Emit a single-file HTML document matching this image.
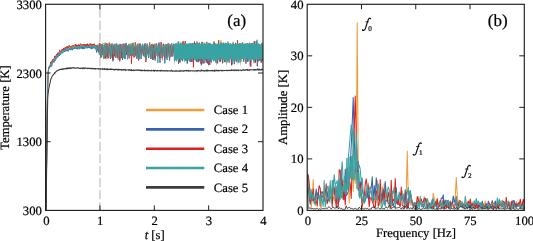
<!DOCTYPE html><html><head><meta charset="utf-8"><style>html,body{margin:0;padding:0;background:#fff;width:533px;height:241px;overflow:hidden}svg{display:block;will-change:transform}</style></head><body><svg xmlns="http://www.w3.org/2000/svg" width="533" height="241" viewBox="0 0 533 241">
<rect width="533" height="241" fill="#fff"/>
<defs><clipPath id="cl"><rect x="45.6" y="4.3" width="217.40" height="206.10"/></clipPath><clipPath id="cr"><rect x="307.2" y="4.3" width="217.10" height="206.10"/></clipPath></defs>
<line x1="99.95" y1="4.3" x2="99.95" y2="210.4" stroke="#cdcdcd" stroke-width="1.5" stroke-dasharray="9.2,2.9" stroke-dashoffset="7.8"/>
<polyline clip-path="url(#cl)" fill="none" stroke="#f29b3c" stroke-width="0.9" stroke-linejoin="round" points="45.60,210.36 45.87,210.54 46.14,198.59 46.42,176.92 46.69,154.59 46.96,133.31 47.23,112.55 47.50,95.02 47.77,83.07 48.05,76.49 48.32,71.52 48.59,68.91 48.86,68.02 49.13,67.81 49.40,67.30 49.68,66.33 49.95,66.10 50.22,65.80 50.49,64.57 50.76,65.27 51.04,62.06 51.31,62.38 51.58,63.68 51.85,62.44 52.12,61.21 52.39,61.61 52.67,61.78 52.94,60.19 53.21,60.83 53.48,59.80 53.75,59.44 54.02,59.12 54.30,59.64 54.57,57.61 54.84,57.81 55.11,58.23 55.38,56.46 55.65,55.82 55.93,57.08 56.20,56.35 56.47,55.95 56.74,55.88 57.01,54.76 57.29,57.39 57.56,54.18 57.83,54.31 58.10,53.28 58.37,53.75 58.64,54.92 58.92,53.51 59.19,53.65 59.46,52.56 59.73,53.99 60.00,52.47 60.27,51.21 60.55,52.52 60.82,51.46 61.09,51.99 61.36,51.44 61.63,51.33 61.91,51.03 62.18,50.04 62.45,49.39 62.72,51.04 62.99,50.01 63.26,50.12 63.54,49.35 63.81,47.98 64.08,48.36 64.35,50.27 64.62,48.53 64.89,48.73 65.17,47.81 65.44,48.42 65.71,48.43 65.98,48.44 66.25,48.45 66.52,47.93 66.80,47.87 67.07,48.19 67.34,48.34 67.61,47.89 67.88,49.20 68.16,47.96 68.43,47.86 68.70,47.18 68.97,48.38 69.24,46.77 69.51,46.26 69.79,46.67 70.06,47.80 70.33,46.41 70.60,48.17 70.87,47.11 71.14,45.92 71.42,46.82 71.69,48.26 71.96,46.21 72.23,45.82 72.50,47.14 72.78,47.69 73.05,47.43 73.32,46.37 73.59,46.71 73.86,46.76 74.13,47.35 74.41,48.04 74.68,46.30 74.95,47.30 75.22,46.02 75.49,46.68 75.76,45.49 76.04,45.57 76.31,46.44 76.58,45.44 76.85,46.76 77.12,45.67 77.39,46.13 77.67,45.99 77.94,45.79 78.21,46.12 78.48,46.82 78.75,48.32 79.03,45.09 79.30,46.19 79.57,45.82 79.84,45.25 80.11,46.13 80.38,45.24 80.66,45.83 80.93,46.80 81.20,44.34 81.47,46.03 81.74,46.16 82.01,45.09 82.29,46.19 82.56,46.05 82.83,45.51 83.10,46.66 83.37,44.76 83.65,46.20 83.92,45.53 84.19,44.90 84.46,45.54 84.73,45.40 85.00,46.26 85.28,44.52 85.55,45.50 85.82,45.30 86.09,46.83 86.36,44.81 86.63,46.44 86.91,44.33 87.18,45.90 87.45,45.54 87.72,45.93 87.99,45.12 88.26,44.18 88.54,44.48 88.81,46.63 89.08,45.80 89.35,44.99 89.62,46.31 89.90,45.08 90.17,45.08 90.44,44.73 90.71,46.52 90.98,47.11 91.25,44.91 91.53,45.85 91.80,46.37 92.07,47.22 92.34,43.84 92.61,45.74 92.88,46.12 93.16,44.54 93.43,45.99 93.70,45.87 93.97,46.29 94.24,45.35 94.52,46.13 94.79,45.40 95.06,46.39 95.33,46.04 95.60,45.46 95.87,44.64 96.15,47.14 96.42,47.83 96.69,48.97 96.96,48.38 97.23,49.36 97.50,49.70 97.78,46.72 98.05,44.46 98.32,45.01 98.59,46.47 98.86,48.09 99.13,53.98 99.41,53.91 99.68,53.55 99.95,48.81 100.22,45.89 100.49,44.26 100.77,44.70 101.04,48.57 101.31,52.53 101.58,56.89 101.85,52.02 102.12,47.09 102.40,48.10 102.67,44.09 102.94,42.88 103.21,45.61 103.48,49.05 103.75,56.95 104.03,50.09 104.30,53.19 104.57,53.61 104.84,47.13 105.11,44.06 105.39,44.70 105.66,48.54 105.93,51.43 106.20,52.35 106.47,58.23 106.74,59.06 107.02,53.01 107.29,51.16 107.56,45.79 107.83,43.94 108.10,45.37 108.37,50.20 108.65,56.31 108.92,54.95 109.19,53.46 109.46,51.09 109.73,46.74 110.00,45.15 110.28,45.54 110.55,44.21 110.82,50.40 111.09,54.23 111.36,54.93 111.64,55.22 111.91,52.75 112.18,48.41 112.45,45.36 112.72,45.02 112.99,45.71 113.27,52.46 113.54,56.32 113.81,51.25 114.08,53.51 114.35,48.82 114.62,44.74 114.90,45.80 115.17,48.95 115.44,51.90 115.71,56.20 115.98,55.40 116.25,50.30 116.53,49.07 116.80,49.29 117.07,45.59 117.34,47.54 117.61,52.67 117.89,56.40 118.16,57.83 118.43,57.37 118.70,51.55 118.97,49.24 119.24,44.37 119.52,43.81 119.79,45.93 120.06,49.51 120.33,55.33 120.60,59.77 120.87,52.46 121.15,49.45 121.42,47.59 121.69,44.69 121.96,45.73 122.23,52.21 122.51,54.86 122.78,54.97 123.05,57.16 123.32,53.68 123.59,47.62 123.86,43.56 124.14,44.41 124.41,46.25 124.68,51.90 124.95,55.31 125.22,59.04 125.49,57.56 125.77,51.96 126.04,47.12 126.31,45.64 126.58,45.23 126.85,45.56 127.12,50.11 127.40,54.14 127.67,56.07 127.94,52.44 128.21,50.50 128.48,46.67 128.76,45.81 129.03,43.52 129.30,44.90 129.57,50.32 129.84,55.56 130.11,55.10 130.39,54.67 130.66,52.66 130.93,46.69 131.20,44.33 131.47,43.09 131.74,51.12 132.02,55.42 132.29,54.88 132.56,54.75 132.83,52.10 133.10,48.40 133.38,46.39 133.65,47.02 133.92,50.48 134.19,49.40 134.46,46.61 134.73,55.74 135.01,56.74 135.28,52.00 135.55,46.16 135.82,43.82 136.09,46.47 136.36,51.20 136.64,56.08 136.91,54.15 137.18,56.33 137.45,51.89 137.72,48.27 138.00,43.32 138.27,44.68 138.54,53.82 138.81,54.23 139.08,55.15 139.35,57.63 139.63,54.24 139.90,52.87 140.17,45.38 140.44,45.06 140.71,45.25 140.98,48.82 141.26,55.37 141.53,56.14 141.80,55.44 142.07,55.07 142.34,48.86 142.61,45.57 142.89,47.45 143.16,46.89 143.43,49.80 143.70,54.53 143.97,55.11 144.25,54.82 144.52,52.76 144.79,46.14 145.06,44.46 145.33,44.66 145.60,45.96 145.88,49.53 146.15,55.46 146.42,59.25 146.69,51.14 146.96,53.12 147.23,45.75 147.51,44.44 147.78,46.30 148.05,48.30 148.32,52.76 148.59,57.99 148.87,57.98 149.14,54.26 149.41,46.53 149.68,44.47 149.95,44.74 150.22,46.71 150.50,52.60 150.77,55.61 151.04,55.57 151.31,55.89 151.58,48.97 151.85,47.81 152.13,44.48 152.40,43.73 152.67,47.94 152.94,50.05 153.21,55.84 153.48,55.28 153.76,52.61 154.03,49.06 154.30,43.87 154.57,44.28 154.84,46.09 155.12,52.53 155.39,51.50 155.66,53.16 155.93,56.18 156.20,50.50 156.47,45.06 156.75,44.11 157.02,44.49 157.29,47.78 157.56,52.71 157.83,54.38 158.10,55.94 158.38,54.31 158.65,50.69 158.92,51.79 159.19,44.51 159.46,45.38 159.74,48.15 160.01,53.47 160.28,56.25 160.55,55.55 160.82,51.65 161.09,51.78 161.37,45.97 161.64,45.77 161.91,44.48 162.18,49.25 162.45,60.32 162.72,48.45 163.00,56.48 163.27,54.85 163.54,51.64 163.81,46.88 164.08,44.75 164.35,45.86 164.63,48.54 164.90,54.25 165.17,53.18 165.44,57.49 165.71,53.89 165.99,49.75 166.26,46.52 166.53,44.04 166.80,45.12 167.07,49.81 167.34,53.52 167.62,57.77 167.89,54.62 168.16,50.05 168.43,50.23 168.70,45.53 168.97,44.59 169.25,46.85 169.52,51.27 169.79,57.45 170.06,57.67 170.33,56.26 170.61,52.27 170.88,45.91 171.15,44.79 171.42,45.08 171.69,50.95 171.96,49.67 172.24,53.43 172.51,51.39 172.78,53.36 173.05,49.07 173.32,43.78 173.59,45.12 173.87,45.12 174.14,51.25 174.41,56.91 174.68,53.70 174.95,53.89 175.22,51.48 175.50,46.56 175.77,44.45 176.04,43.54 176.31,47.05 176.58,53.62 176.86,52.51 177.13,57.08 177.40,54.95 177.67,55.52 177.94,46.95 178.21,44.83 178.49,43.83 178.76,44.73 179.03,52.14 179.30,57.31 179.57,54.73 179.84,54.72 180.12,56.89 180.39,49.42 180.66,45.04 180.93,43.37 181.20,45.56 181.47,55.48 181.75,59.73 182.02,57.95 182.29,53.31 182.56,51.90 182.83,50.10 183.11,41.83 183.38,45.02 183.65,48.40 183.92,52.39 184.19,54.19 184.46,62.07 184.74,55.64 185.01,49.53 185.28,46.33 185.55,45.85 185.82,46.39 186.09,53.38 186.37,52.98 186.64,59.50 186.91,60.70 187.18,51.19 187.45,47.66 187.73,45.01 188.00,46.14 188.27,49.87 188.54,51.65 188.81,58.96 189.08,60.68 189.36,56.25 189.63,50.99 189.90,46.32 190.17,45.50 190.44,43.93 190.71,45.82 190.99,53.38 191.26,52.74 191.53,57.56 191.80,52.40 192.07,51.43 192.34,45.56 192.62,44.61 192.89,45.58 193.16,45.49 193.43,57.95 193.70,55.86 193.98,50.66 194.25,52.76 194.52,51.84 194.79,46.40 195.06,43.77 195.33,47.30 195.61,54.59 195.88,52.77 196.15,55.81 196.42,57.64 196.69,55.32 196.96,46.45 197.24,47.74 197.51,45.78 197.78,48.21 198.05,58.51 198.32,54.74 198.60,60.90 198.87,61.23 199.14,51.70 199.41,47.85 199.68,46.50 199.95,44.78 200.23,46.20 200.50,50.23 200.77,56.07 201.04,62.26 201.31,55.81 201.58,52.70 201.86,50.66 202.13,41.84 202.40,44.97 202.67,53.37 202.94,46.90 203.22,62.66 203.49,57.10 203.76,57.78 204.03,53.31 204.30,47.94 204.57,42.83 204.85,43.71 205.12,45.47 205.39,53.61 205.66,55.08 205.93,60.63 206.20,57.33 206.48,55.89 206.75,52.41 207.02,44.79 207.29,41.89 207.56,49.32 207.83,49.54 208.11,59.42 208.38,58.33 208.65,53.90 208.92,48.98 209.19,45.28 209.47,43.99 209.74,45.01 210.01,50.27 210.28,55.52 210.55,59.58 210.82,57.34 211.10,51.89 211.37,45.42 211.64,44.67 211.91,47.77 212.18,50.23 212.45,53.69 212.73,55.85 213.00,52.91 213.27,48.77 213.54,47.89 213.81,42.38 214.09,40.99 214.36,45.43 214.63,55.11 214.90,60.60 215.17,58.44 215.44,53.55 215.72,52.58 215.99,49.42 216.26,46.53 216.53,43.96 216.80,49.44 217.07,54.68 217.35,54.84 217.62,59.85 217.89,53.46 218.16,56.49 218.43,45.68 218.70,43.91 218.98,44.70 219.25,49.07 219.52,55.94 219.79,56.71 220.06,61.34 220.34,55.32 220.61,48.54 220.88,40.36 221.15,44.35 221.42,46.47 221.69,48.78 221.97,54.32 222.24,57.58 222.51,63.96 222.78,56.50 223.05,49.08 223.32,43.20 223.60,44.44 223.87,42.94 224.14,51.76 224.41,56.92 224.68,60.77 224.96,59.05 225.23,52.85 225.50,48.95 225.77,46.64 226.04,48.85 226.31,47.66 226.59,51.71 226.86,58.61 227.13,56.32 227.40,62.73 227.67,50.21 227.94,49.31 228.22,44.42 228.49,44.97 228.76,47.67 229.03,52.33 229.30,50.84 229.57,55.70 229.85,58.00 230.12,55.29 230.39,48.19 230.66,47.13 230.93,44.57 231.21,48.81 231.48,51.11 231.75,61.82 232.02,56.74 232.29,55.29 232.56,50.52 232.84,48.78 233.11,41.82 233.38,43.24 233.65,48.85 233.92,56.84 234.19,55.20 234.47,60.14 234.74,53.39 235.01,48.04 235.28,43.80 235.55,48.69 235.82,53.32 236.10,54.60 236.37,61.22 236.64,59.50 236.91,52.72 237.18,49.01 237.46,47.08 237.73,42.92 238.00,45.85 238.27,48.62 238.54,53.50 238.81,57.28 239.09,57.06 239.36,50.87 239.63,47.97 239.90,48.41 240.17,44.52 240.44,46.91 240.72,61.77 240.99,60.98 241.26,56.94 241.53,61.62 241.80,54.65 242.08,45.65 242.35,45.22 242.62,44.45 242.89,55.20 243.16,53.98 243.43,53.81 243.71,58.54 243.98,50.65 244.25,46.56 244.52,43.68 244.79,47.69 245.06,53.26 245.34,54.55 245.61,55.72 245.88,55.25 246.15,48.47 246.42,48.82 246.70,44.35 246.97,44.56 247.24,45.61 247.51,46.76 247.78,52.31 248.05,53.30 248.33,55.06 248.60,55.77 248.87,52.00 249.14,48.28 249.41,42.54 249.68,44.43 249.96,52.19 250.23,59.54 250.50,57.43 250.77,55.69 251.04,53.96 251.31,51.07 251.59,44.12 251.86,46.84 252.13,45.43 252.40,51.20 252.67,54.20 252.95,56.91 253.22,54.43 253.49,54.69 253.76,47.49 254.03,45.36 254.30,44.20 254.58,48.35 254.85,49.96 255.12,55.19 255.39,57.48 255.66,61.09 255.93,51.99 256.21,48.40 256.48,43.64 256.75,44.48 257.02,45.44 257.29,47.18 257.56,49.30 257.84,57.92 258.11,55.87 258.38,57.43 258.65,52.00 258.92,48.96 259.20,47.45 259.47,53.84 259.74,48.30 260.01,48.70 260.28,59.16 260.55,62.96 260.83,60.75 261.10,49.69 261.37,48.02 261.64,45.77 261.91,45.09 262.18,45.00 262.46,55.49 262.73,55.73 263.00,56.38"/>
<polyline clip-path="url(#cl)" fill="none" stroke="#3565ae" stroke-width="0.9" stroke-linejoin="round" points="45.60,210.37 45.87,210.67 46.14,198.73 46.42,177.28 46.69,154.35 46.96,133.11 47.23,112.65 47.50,95.26 47.77,83.65 48.05,76.06 48.32,71.44 48.59,68.26 48.86,69.09 49.13,67.92 49.40,66.90 49.68,66.61 49.95,67.37 50.22,67.15 50.49,66.57 50.76,66.52 51.04,66.50 51.31,64.46 51.58,66.49 51.85,66.09 52.12,64.23 52.39,63.17 52.67,63.13 52.94,61.52 53.21,62.24 53.48,61.25 53.75,61.43 54.02,60.90 54.30,62.33 54.57,59.77 54.84,60.29 55.11,59.40 55.38,60.53 55.65,59.78 55.93,57.47 56.20,57.58 56.47,58.24 56.74,57.28 57.01,57.80 57.29,57.24 57.56,56.08 57.83,56.38 58.10,56.68 58.37,55.98 58.64,55.85 58.92,55.74 59.19,55.09 59.46,55.91 59.73,53.66 60.00,54.68 60.27,53.73 60.55,54.22 60.82,54.35 61.09,53.99 61.36,53.81 61.63,53.67 61.91,53.30 62.18,52.52 62.45,53.04 62.72,53.02 62.99,52.73 63.26,52.09 63.54,51.89 63.81,49.98 64.08,50.68 64.35,51.04 64.62,51.84 64.89,51.89 65.17,50.99 65.44,49.94 65.71,51.05 65.98,51.32 66.25,51.05 66.52,49.85 66.80,49.46 67.07,49.49 67.34,49.26 67.61,50.72 67.88,50.10 68.16,51.41 68.43,50.95 68.70,50.41 68.97,49.06 69.24,50.01 69.51,49.78 69.79,48.31 70.06,48.35 70.33,48.68 70.60,50.12 70.87,48.80 71.14,47.99 71.42,49.03 71.69,49.35 71.96,47.91 72.23,50.21 72.50,48.16 72.78,49.48 73.05,49.15 73.32,48.03 73.59,48.45 73.86,48.50 74.13,48.17 74.41,48.96 74.68,48.38 74.95,46.99 75.22,48.32 75.49,47.33 75.76,47.97 76.04,48.28 76.31,48.01 76.58,48.84 76.85,48.00 77.12,47.65 77.39,49.28 77.67,48.57 77.94,47.90 78.21,47.99 78.48,47.67 78.75,48.02 79.03,47.21 79.30,49.25 79.57,48.84 79.84,46.20 80.11,47.15 80.38,47.83 80.66,47.36 80.93,46.22 81.20,48.34 81.47,46.90 81.74,48.30 82.01,48.11 82.29,48.90 82.56,47.07 82.83,49.10 83.10,46.78 83.37,48.83 83.65,48.48 83.92,47.99 84.19,46.83 84.46,48.85 84.73,48.23 85.00,46.35 85.28,45.64 85.55,47.10 85.82,46.95 86.09,48.14 86.36,47.71 86.63,47.85 86.91,47.22 87.18,48.32 87.45,47.17 87.72,46.46 87.99,45.79 88.26,48.00 88.54,47.14 88.81,46.31 89.08,46.94 89.35,47.31 89.62,48.13 89.90,45.99 90.17,47.30 90.44,48.17 90.71,47.97 90.98,48.23 91.25,49.11 91.53,46.97 91.80,47.16 92.07,48.43 92.34,48.85 92.61,47.88 92.88,47.38 93.16,46.77 93.43,48.15 93.70,47.98 93.97,46.94 94.24,47.39 94.52,47.08 94.79,48.30 95.06,47.76 95.33,48.70 95.60,48.65 95.87,48.26 96.15,50.03 96.42,51.00 96.69,52.49 96.96,50.00 97.23,50.28 97.50,49.09 97.78,47.05 98.05,46.41 98.32,48.72 98.59,51.12 98.86,51.99 99.13,50.40 99.41,53.09 99.68,49.72 99.95,46.04 100.22,44.29 100.49,45.34 100.77,46.32 101.04,50.75 101.31,52.12 101.58,56.88 101.85,55.37 102.12,52.26 102.40,49.40 102.67,45.12 102.94,47.12 103.21,48.50 103.48,53.18 103.75,54.82 104.03,58.55 104.30,50.25 104.57,47.38 104.84,44.78 105.11,47.18 105.39,50.30 105.66,56.82 105.93,57.24 106.20,56.74 106.47,54.89 106.74,52.79 107.02,46.61 107.29,46.81 107.56,47.91 107.83,51.95 108.10,57.72 108.37,56.27 108.65,53.23 108.92,51.65 109.19,46.45 109.46,44.32 109.73,48.30 110.00,53.34 110.28,53.58 110.55,58.79 110.82,53.01 111.09,55.64 111.36,52.08 111.64,49.70 111.91,43.67 112.18,46.34 112.45,49.37 112.72,52.19 112.99,61.33 113.27,59.25 113.54,55.34 113.81,48.18 114.08,46.65 114.35,46.55 114.62,48.44 114.90,56.37 115.17,54.32 115.44,55.83 115.71,57.70 115.98,57.15 116.25,48.82 116.53,47.01 116.80,44.67 117.07,46.82 117.34,47.78 117.61,53.20 117.89,55.24 118.16,54.41 118.43,50.09 118.70,49.08 118.97,45.85 119.24,44.72 119.52,46.58 119.79,52.86 120.06,53.41 120.33,53.42 120.60,58.20 120.87,50.73 121.15,48.24 121.42,46.41 121.69,45.63 121.96,48.33 122.23,54.18 122.51,59.96 122.78,57.17 123.05,58.07 123.32,49.66 123.59,47.04 123.86,45.98 124.14,44.30 124.41,46.19 124.68,52.61 124.95,58.86 125.22,58.05 125.49,55.13 125.77,49.33 126.04,45.86 126.31,43.09 126.58,47.28 126.85,51.28 127.12,52.54 127.40,57.16 127.67,57.45 127.94,52.36 128.21,49.31 128.48,45.66 128.76,44.59 129.03,46.89 129.30,53.15 129.57,54.36 129.84,55.46 130.11,56.10 130.39,52.02 130.66,46.88 130.93,46.04 131.20,46.70 131.47,48.49 131.74,53.19 132.02,53.30 132.29,55.78 132.56,53.74 132.83,50.63 133.10,47.25 133.38,45.58 133.65,49.04 133.92,54.35 134.19,50.78 134.46,57.09 134.73,54.77 135.01,52.10 135.28,47.67 135.55,46.46 135.82,45.67 136.09,47.94 136.36,54.71 136.64,56.07 136.91,58.78 137.18,54.33 137.45,49.31 137.72,44.22 138.00,46.42 138.27,47.64 138.54,51.18 138.81,57.20 139.08,59.16 139.35,54.73 139.63,53.41 139.90,48.77 140.17,44.68 140.44,46.25 140.71,48.39 140.98,51.56 141.26,58.74 141.53,55.05 141.80,52.75 142.07,52.57 142.34,45.29 142.61,44.69 142.89,44.52 143.16,48.58 143.43,53.78 143.70,55.99 143.97,53.22 144.25,54.42 144.52,49.47 144.79,48.50 145.06,45.82 145.33,43.63 145.60,49.70 145.88,54.72 146.15,57.45 146.42,57.15 146.69,52.70 146.96,47.56 147.23,46.21 147.51,45.44 147.78,47.24 148.05,51.63 148.32,55.83 148.59,58.03 148.87,53.88 149.14,52.75 149.41,49.09 149.68,46.56 149.95,45.44 150.22,50.36 150.50,51.37 150.77,58.12 151.04,56.68 151.31,52.09 151.58,48.97 151.85,44.38 152.13,47.78 152.40,48.17 152.67,54.23 152.94,59.00 153.21,54.43 153.48,50.36 153.76,47.30 154.03,45.03 154.30,48.49 154.57,51.24 154.84,54.17 155.12,60.52 155.39,52.25 155.66,52.07 155.93,51.46 156.20,48.51 156.47,46.08 156.75,48.10 157.02,48.41 157.29,54.25 157.56,56.32 157.83,55.25 158.10,55.39 158.38,51.17 158.65,46.89 158.92,45.26 159.19,44.66 159.46,52.76 159.74,55.75 160.01,62.82 160.28,52.97 160.55,52.68 160.82,50.69 161.09,46.62 161.37,43.56 161.64,46.09 161.91,50.86 162.18,53.52 162.45,56.32 162.72,56.05 163.00,54.68 163.27,51.58 163.54,45.55 163.81,46.91 164.08,50.74 164.35,55.56 164.63,56.23 164.90,63.32 165.17,51.01 165.44,52.28 165.71,47.42 165.99,46.55 166.26,48.09 166.53,53.10 166.80,58.57 167.07,59.96 167.34,54.97 167.62,55.88 167.89,48.72 168.16,44.71 168.43,45.14 168.70,46.26 168.97,53.49 169.25,56.84 169.52,60.56 169.79,56.84 170.06,53.19 170.33,46.80 170.61,46.29 170.88,53.08 171.15,51.17 171.42,50.20 171.69,53.62 171.96,55.76 172.24,55.92 172.51,48.30 172.78,46.47 173.05,45.83 173.32,47.87 173.59,50.65 173.87,52.71 174.14,55.68 174.41,56.27 174.68,52.77 174.95,48.45 175.22,44.70 175.50,47.36 175.77,51.72 176.04,57.14 176.31,60.43 176.58,51.20 176.86,48.70 177.13,46.66 177.40,45.10 177.67,47.25 177.94,54.02 178.21,57.94 178.49,63.70 178.76,57.62 179.03,56.01 179.30,49.31 179.57,44.43 179.84,53.47 180.12,54.90 180.39,61.79 180.66,54.86 180.93,58.39 181.20,50.15 181.47,47.84 181.75,45.04 182.02,50.53 182.29,57.83 182.56,61.18 182.83,58.54 183.11,57.59 183.38,54.73 183.65,48.95 183.92,43.02 184.19,44.96 184.46,48.74 184.74,55.62 185.01,58.52 185.28,56.95 185.55,60.57 185.82,54.30 186.09,48.80 186.37,44.20 186.64,46.08 186.91,48.21 187.18,54.26 187.45,63.52 187.73,55.02 188.00,57.18 188.27,52.49 188.54,47.79 188.81,44.81 189.08,45.93 189.36,54.56 189.63,59.57 189.90,61.61 190.17,54.07 190.44,47.49 190.71,54.63 190.99,43.16 191.26,51.67 191.53,52.07 191.80,61.18 192.07,62.09 192.34,57.47 192.62,49.18 192.89,43.51 193.16,46.15 193.43,45.36 193.70,53.12 193.98,56.31 194.25,54.42 194.52,54.69 194.79,45.74 195.06,51.63 195.33,43.57 195.61,45.55 195.88,49.86 196.15,58.55 196.42,57.75 196.69,62.03 196.96,58.79 197.24,54.93 197.51,53.46 197.78,49.16 198.05,43.28 198.32,49.26 198.60,60.32 198.87,58.74 199.14,60.90 199.41,56.89 199.68,54.61 199.95,52.73 200.23,46.29 200.50,47.73 200.77,48.16 201.04,53.59 201.31,65.25 201.58,64.70 201.86,61.60 202.13,49.37 202.40,47.81 202.67,42.55 202.94,43.51 203.22,56.76 203.49,62.75 203.76,58.75 204.03,63.29 204.30,55.59 204.57,51.79 204.85,44.99 205.12,46.13 205.39,50.20 205.66,52.82 205.93,61.27 206.20,62.81 206.48,61.80 206.75,53.74 207.02,45.18 207.29,46.87 207.56,46.88 207.83,51.09 208.11,58.83 208.38,61.51 208.65,65.18 208.92,59.98 209.19,55.55 209.47,53.56 209.74,44.41 210.01,43.79 210.28,48.30 210.55,51.26 210.82,61.44 211.10,59.60 211.37,62.25 211.64,47.85 211.91,46.04 212.18,44.94 212.45,49.36 212.73,53.52 213.00,59.47 213.27,51.52 213.54,59.17 213.81,60.00 214.09,54.06 214.36,45.19 214.63,43.48 214.90,46.33 215.17,52.23 215.44,55.71 215.72,57.95 215.99,62.84 216.26,55.10 216.53,46.79 216.80,46.09 217.07,46.54 217.35,55.56 217.62,59.06 217.89,55.77 218.16,56.14 218.43,50.76 218.70,50.12 218.98,47.67 219.25,43.93 219.52,52.08 219.79,56.71 220.06,59.43 220.34,61.55 220.61,61.30 220.88,53.86 221.15,45.49 221.42,43.67 221.69,46.07 221.97,51.19 222.24,59.66 222.51,59.93 222.78,62.99 223.05,52.36 223.32,46.53 223.60,45.06 223.87,44.49 224.14,48.65 224.41,57.85 224.68,62.05 224.96,52.12 225.23,52.02 225.50,43.30 225.77,45.42 226.04,51.89 226.31,57.27 226.59,59.33 226.86,59.52 227.13,53.58 227.40,60.43 227.67,50.69 227.94,47.27 228.22,43.15 228.49,47.87 228.76,52.12 229.03,57.58 229.30,58.22 229.57,59.80 229.85,55.30 230.12,51.14 230.39,48.59 230.66,44.78 230.93,47.33 231.21,55.91 231.48,62.19 231.75,62.43 232.02,64.45 232.29,57.61 232.56,46.88 232.84,44.39 233.11,43.35 233.38,48.64 233.65,56.40 233.92,61.33 234.19,64.18 234.47,63.93 234.74,59.55 235.01,48.75 235.28,47.67 235.55,43.37 235.82,48.96 236.10,55.52 236.37,60.86 236.64,61.86 236.91,59.66 237.18,49.93 237.46,49.22 237.73,48.81 238.00,45.77 238.27,45.64 238.54,50.23 238.81,59.75 239.09,53.97 239.36,54.28 239.63,47.22 239.90,43.96 240.17,46.86 240.44,47.08 240.72,49.19 240.99,55.38 241.26,54.82 241.53,55.40 241.80,58.10 242.08,54.10 242.35,46.41 242.62,43.79 242.89,50.42 243.16,55.51 243.43,59.20 243.71,61.76 243.98,59.39 244.25,49.65 244.52,50.88 244.79,44.78 245.06,43.92 245.34,57.90 245.61,52.83 245.88,61.65 246.15,58.60 246.42,52.27 246.70,47.81 246.97,45.59 247.24,50.99 247.51,56.64 247.78,57.01 248.05,60.60 248.33,55.99 248.60,45.92 248.87,44.15 249.14,47.18 249.41,48.84 249.68,51.01 249.96,58.63 250.23,65.60 250.50,51.69 250.77,48.69 251.04,47.46 251.31,43.04 251.59,47.16 251.86,52.74 252.13,57.02 252.40,55.96 252.67,59.37 252.95,56.72 253.22,52.88 253.49,47.13 253.76,43.68 254.03,44.19 254.30,50.86 254.58,54.67 254.85,58.19 255.12,62.41 255.39,56.51 255.66,49.47 255.93,43.49 256.21,41.28 256.48,50.68 256.75,52.98 257.02,59.01 257.29,66.31 257.56,62.73 257.84,53.22 258.11,51.78 258.38,45.69 258.65,45.48 258.92,49.08 259.20,53.21 259.47,52.83 259.74,60.86 260.01,50.21 260.28,53.84 260.55,48.48 260.83,45.40 261.10,46.56 261.37,49.09 261.64,62.48 261.91,59.32 262.18,53.17 262.46,51.61 262.73,51.47 263.00,45.65"/>
<polyline clip-path="url(#cl)" fill="none" stroke="#dc2020" stroke-width="0.9" stroke-linejoin="round" points="45.60,210.56 45.87,210.17 46.14,198.91 46.42,176.58 46.69,155.07 46.96,133.17 47.23,112.50 47.50,95.22 47.77,83.00 48.05,76.71 48.32,71.46 48.59,68.73 48.86,67.19 49.13,66.48 49.40,66.97 49.68,66.14 49.95,65.45 50.22,64.94 50.49,63.88 50.76,62.08 51.04,63.62 51.31,62.48 51.58,61.26 51.85,60.97 52.12,61.56 52.39,60.05 52.67,59.34 52.94,60.12 53.21,60.11 53.48,59.81 53.75,59.38 54.02,58.62 54.30,57.90 54.57,56.25 54.84,57.21 55.11,56.50 55.38,57.83 55.65,55.86 55.93,56.12 56.20,56.17 56.47,54.44 56.74,54.13 57.01,55.67 57.29,55.34 57.56,52.90 57.83,53.92 58.10,54.58 58.37,52.69 58.64,53.03 58.92,52.79 59.19,52.16 59.46,51.75 59.73,49.86 60.00,50.71 60.27,51.09 60.55,51.30 60.82,52.27 61.09,52.58 61.36,51.57 61.63,50.48 61.91,49.31 62.18,49.78 62.45,50.53 62.72,49.42 62.99,49.51 63.26,50.07 63.54,48.22 63.81,48.18 64.08,49.66 64.35,48.86 64.62,49.06 64.89,48.45 65.17,47.39 65.44,49.04 65.71,47.65 65.98,48.22 66.25,48.18 66.52,47.99 66.80,46.69 67.07,47.81 67.34,46.38 67.61,47.49 67.88,46.84 68.16,48.19 68.43,46.54 68.70,46.80 68.97,46.72 69.24,45.33 69.51,46.53 69.79,46.60 70.06,45.98 70.33,46.37 70.60,46.63 70.87,46.64 71.14,46.70 71.42,47.01 71.69,47.00 71.96,45.87 72.23,46.28 72.50,45.96 72.78,45.59 73.05,45.51 73.32,45.03 73.59,45.93 73.86,46.46 74.13,45.38 74.41,45.29 74.68,44.91 74.95,44.57 75.22,44.68 75.49,45.59 75.76,44.16 76.04,46.55 76.31,45.94 76.58,45.36 76.85,44.86 77.12,45.97 77.39,45.03 77.67,46.72 77.94,45.15 78.21,45.58 78.48,44.60 78.75,46.02 79.03,45.57 79.30,45.56 79.57,46.42 79.84,44.51 80.11,43.77 80.38,43.66 80.66,44.60 80.93,44.84 81.20,44.81 81.47,45.43 81.74,45.86 82.01,44.50 82.29,45.94 82.56,44.61 82.83,44.27 83.10,45.53 83.37,45.61 83.65,45.46 83.92,44.20 84.19,45.95 84.46,45.21 84.73,44.32 85.00,44.91 85.28,45.03 85.55,44.86 85.82,44.46 86.09,46.13 86.36,44.52 86.63,45.17 86.91,44.85 87.18,45.08 87.45,43.69 87.72,46.37 87.99,46.00 88.26,44.85 88.54,45.74 88.81,44.96 89.08,45.50 89.35,44.82 89.62,43.75 89.90,44.45 90.17,44.47 90.44,44.38 90.71,43.40 90.98,44.72 91.25,45.31 91.53,45.17 91.80,44.29 92.07,46.12 92.34,44.73 92.61,45.16 92.88,44.73 93.16,44.31 93.43,45.04 93.70,44.27 93.97,44.19 94.24,43.65 94.52,45.20 94.79,45.55 95.06,45.13 95.33,45.46 95.60,46.33 95.87,47.39 96.15,47.07 96.42,47.46 96.69,46.14 96.96,44.98 97.23,45.08 97.50,47.40 97.78,49.39 98.05,51.29 98.32,51.00 98.59,51.93 98.86,48.58 99.13,45.75 99.41,43.17 99.68,45.28 99.95,48.16 100.22,53.52 100.49,55.16 100.77,57.65 101.04,56.21 101.31,48.32 101.58,48.67 101.85,44.02 102.12,46.85 102.40,47.45 102.67,51.90 102.94,54.98 103.21,54.40 103.48,54.60 103.75,52.33 104.03,49.67 104.30,45.18 104.57,44.84 104.84,47.77 105.11,52.92 105.39,58.50 105.66,52.98 105.93,55.23 106.20,51.43 106.47,47.35 106.74,43.07 107.02,44.24 107.29,50.04 107.56,55.37 107.83,53.36 108.10,58.36 108.37,53.56 108.65,52.44 108.92,45.98 109.19,42.65 109.46,45.59 109.73,45.70 110.00,50.79 110.28,58.34 110.55,55.90 110.82,56.37 111.09,50.76 111.36,46.03 111.64,45.13 111.91,45.53 112.18,49.91 112.45,51.64 112.72,59.93 112.99,55.78 113.27,52.13 113.54,48.77 113.81,44.59 114.08,45.10 114.35,46.62 114.62,50.61 114.90,56.17 115.17,56.51 115.44,53.33 115.71,47.77 115.98,43.67 116.25,43.50 116.53,49.57 116.80,53.80 117.07,55.06 117.34,58.00 117.61,53.37 117.89,47.79 118.16,45.73 118.43,45.43 118.70,47.49 118.97,49.30 119.24,51.88 119.52,58.14 119.79,61.33 120.06,49.11 120.33,46.52 120.60,44.39 120.87,43.90 121.15,45.68 121.42,52.22 121.69,58.06 121.96,51.60 122.23,54.04 122.51,53.03 122.78,46.96 123.05,43.77 123.32,44.96 123.59,46.03 123.86,49.96 124.14,54.84 124.41,56.61 124.68,57.38 124.95,53.30 125.22,47.79 125.49,44.42 125.77,43.52 126.04,45.66 126.31,49.51 126.58,54.69 126.85,54.98 127.12,53.97 127.40,51.67 127.67,45.78 127.94,45.59 128.21,45.29 128.48,47.96 128.76,53.89 129.03,56.68 129.30,58.37 129.57,52.64 129.84,55.54 130.11,46.67 130.39,44.70 130.66,45.20 130.93,50.08 131.20,52.73 131.47,63.73 131.74,56.51 132.02,54.65 132.29,47.35 132.56,46.13 132.83,43.06 133.10,47.13 133.38,52.69 133.65,52.87 133.92,57.35 134.19,53.50 134.46,51.20 134.73,49.20 135.01,44.89 135.28,42.45 135.55,50.01 135.82,55.53 136.09,53.01 136.36,55.26 136.64,53.87 136.91,47.74 137.18,46.10 137.45,45.03 137.72,45.54 138.00,53.24 138.27,57.76 138.54,60.56 138.81,57.22 139.08,53.71 139.35,50.29 139.63,45.63 139.90,43.34 140.17,46.36 140.44,49.89 140.71,52.78 140.98,52.77 141.26,58.56 141.53,54.95 141.80,47.08 142.07,46.34 142.34,44.57 142.61,44.79 142.89,48.83 143.16,53.33 143.43,54.05 143.70,53.10 143.97,52.46 144.25,50.00 144.52,47.32 144.79,43.64 145.06,47.00 145.33,50.67 145.60,56.35 145.88,62.14 146.15,55.81 146.42,58.12 146.69,49.81 146.96,45.15 147.23,43.64 147.51,46.37 147.78,50.18 148.05,54.77 148.32,53.80 148.59,51.28 148.87,50.75 149.14,48.43 149.41,45.11 149.68,42.41 149.95,46.22 150.22,52.08 150.50,54.49 150.77,58.90 151.04,55.52 151.31,47.29 151.58,45.43 151.85,44.47 152.13,47.87 152.40,49.48 152.67,59.93 152.94,56.99 153.21,53.24 153.48,49.55 153.76,45.49 154.03,44.38 154.30,45.63 154.57,48.78 154.84,58.40 155.12,53.26 155.39,54.27 155.66,51.73 155.93,47.43 156.20,43.32 156.47,46.91 156.75,48.31 157.02,52.69 157.29,54.52 157.56,55.86 157.83,52.74 158.10,50.74 158.38,46.26 158.65,43.69 158.92,42.51 159.19,47.12 159.46,49.05 159.74,54.84 160.01,57.74 160.28,54.68 160.55,53.31 160.82,46.70 161.09,42.07 161.37,45.10 161.64,50.96 161.91,58.23 162.18,57.33 162.45,56.82 162.72,48.08 163.00,47.38 163.27,44.85 163.54,43.73 163.81,46.81 164.08,50.08 164.35,50.69 164.63,57.86 164.90,54.92 165.17,48.77 165.44,47.02 165.71,45.93 165.99,44.19 166.26,46.80 166.53,47.73 166.80,55.02 167.07,54.07 167.34,56.71 167.62,49.00 167.89,46.87 168.16,43.31 168.43,46.44 168.70,49.87 168.97,53.59 169.25,56.81 169.52,55.10 169.79,50.70 170.06,45.70 170.33,45.95 170.61,44.72 170.88,47.16 171.15,50.82 171.42,52.10 171.69,53.06 171.96,56.80 172.24,53.16 172.51,50.31 172.78,46.99 173.05,44.82 173.32,44.24 173.59,46.48 173.87,49.18 174.14,51.39 174.41,60.10 174.68,56.05 174.95,54.47 175.22,48.17 175.50,45.39 175.77,44.02 176.04,45.68 176.31,47.16 176.58,50.83 176.86,56.03 177.13,55.72 177.40,53.13 177.67,48.43 177.94,44.04 178.21,41.90 178.49,44.36 178.76,51.40 179.03,56.04 179.30,62.30 179.57,58.75 179.84,54.78 180.12,47.10 180.39,43.29 180.66,46.89 180.93,51.87 181.20,57.20 181.47,59.89 181.75,59.70 182.02,57.31 182.29,49.72 182.56,44.83 182.83,42.31 183.11,41.23 183.38,45.41 183.65,49.48 183.92,52.11 184.19,55.64 184.46,59.20 184.74,51.20 185.01,42.34 185.28,40.99 185.55,43.75 185.82,47.05 186.09,54.07 186.37,59.17 186.64,59.75 186.91,55.21 187.18,51.29 187.45,45.42 187.73,48.33 188.00,49.30 188.27,54.09 188.54,58.64 188.81,55.81 189.08,52.70 189.36,49.56 189.63,45.09 189.90,46.32 190.17,48.18 190.44,54.29 190.71,61.07 190.99,61.99 191.26,59.26 191.53,55.91 191.80,49.99 192.07,43.91 192.34,43.76 192.62,43.84 192.89,52.72 193.16,52.14 193.43,67.36 193.70,57.07 193.98,54.55 194.25,49.43 194.52,41.55 194.79,46.43 195.06,44.92 195.33,52.16 195.61,60.15 195.88,60.12 196.15,55.73 196.42,48.98 196.69,45.29 196.96,41.66 197.24,45.17 197.51,54.49 197.78,61.61 198.05,62.19 198.32,60.89 198.60,56.71 198.87,51.71 199.14,46.47 199.41,42.60 199.68,49.65 199.95,54.51 200.23,61.55 200.50,59.10 200.77,63.49 201.04,53.25 201.31,49.07 201.58,48.84 201.86,41.96 202.13,44.92 202.40,51.25 202.67,52.43 202.94,63.47 203.22,62.15 203.49,54.66 203.76,49.95 204.03,44.85 204.30,46.90 204.57,43.42 204.85,55.83 205.12,54.83 205.39,59.39 205.66,57.62 205.93,51.75 206.20,49.46 206.48,42.25 206.75,47.57 207.02,53.45 207.29,55.82 207.56,63.40 207.83,61.28 208.11,55.01 208.38,46.70 208.65,45.12 208.92,42.99 209.19,48.48 209.47,54.29 209.74,64.83 210.01,62.01 210.28,56.71 210.55,56.79 210.82,58.83 211.10,45.66 211.37,46.47 211.64,44.66 211.91,46.81 212.18,48.54 212.45,56.07 212.73,53.62 213.00,58.77 213.27,55.56 213.54,46.44 213.81,44.49 214.09,42.36 214.36,47.15 214.63,54.47 214.90,55.90 215.17,57.61 215.44,53.36 215.72,55.76 215.99,49.23 216.26,47.49 216.53,49.27 216.80,49.67 217.07,57.76 217.35,57.38 217.62,63.35 217.89,57.11 218.16,50.21 218.43,46.50 218.70,40.20 218.98,46.83 219.25,48.59 219.52,56.91 219.79,55.20 220.06,62.03 220.34,55.51 220.61,52.48 220.88,46.87 221.15,43.54 221.42,44.14 221.69,50.15 221.97,58.80 222.24,55.19 222.51,60.25 222.78,53.64 223.05,53.41 223.32,47.95 223.60,42.95 223.87,46.53 224.14,48.24 224.41,58.19 224.68,52.10 224.96,61.76 225.23,55.00 225.50,48.30 225.77,43.40 226.04,43.87 226.31,43.54 226.59,51.09 226.86,57.64 227.13,58.07 227.40,56.88 227.67,53.68 227.94,44.64 228.22,43.86 228.49,45.14 228.76,53.28 229.03,61.54 229.30,56.72 229.57,57.01 229.85,53.58 230.12,48.13 230.39,43.22 230.66,45.04 230.93,49.47 231.21,49.00 231.48,65.29 231.75,59.18 232.02,58.65 232.29,50.99 232.56,45.37 232.84,45.61 233.11,44.48 233.38,49.83 233.65,52.48 233.92,52.95 234.19,60.26 234.47,56.67 234.74,50.85 235.01,48.84 235.28,45.49 235.55,42.91 235.82,54.41 236.10,59.32 236.37,61.40 236.64,56.20 236.91,52.02 237.18,49.14 237.46,40.33 237.73,44.57 238.00,51.25 238.27,53.71 238.54,57.43 238.81,62.09 239.09,57.66 239.36,49.43 239.63,44.18 239.90,43.28 240.17,46.34 240.44,48.12 240.72,55.63 240.99,57.36 241.26,56.09 241.53,58.82 241.80,52.39 242.08,46.73 242.35,42.86 242.62,43.82 242.89,49.57 243.16,55.66 243.43,57.23 243.71,59.66 243.98,49.81 244.25,45.01 244.52,44.37 244.79,48.73 245.06,50.15 245.34,52.59 245.61,58.07 245.88,63.60 246.15,53.78 246.42,57.62 246.70,50.93 246.97,43.41 247.24,45.43 247.51,49.14 247.78,61.83 248.05,58.35 248.33,56.97 248.60,48.88 248.87,50.05 249.14,45.25 249.41,44.50 249.68,45.39 249.96,57.59 250.23,57.55 250.50,55.92 250.77,66.66 251.04,59.28 251.31,51.38 251.59,46.64 251.86,44.16 252.13,46.75 252.40,51.46 252.67,54.80 252.95,54.29 253.22,56.49 253.49,54.03 253.76,46.08 254.03,42.60 254.30,40.99 254.58,43.08 254.85,49.20 255.12,56.89 255.39,62.65 255.66,54.72 255.93,55.48 256.21,50.89 256.48,46.01 256.75,41.52 257.02,44.18 257.29,50.20 257.56,51.08 257.84,60.33 258.11,61.66 258.38,55.82 258.65,51.00 258.92,45.43 259.20,44.86 259.47,45.31 259.74,49.98 260.01,53.59 260.28,60.22 260.55,60.06 260.83,59.22 261.10,49.82 261.37,48.22 261.64,43.18 261.91,46.65 262.18,52.48 262.46,60.43 262.73,61.08 263.00,54.74"/>
<polygon clip-path="url(#cl)" fill="#3aa3a3" points="174.00,43.24 174.50,44.68 175.00,42.70 175.50,45.44 176.00,44.10 176.50,43.57 177.00,44.26 177.50,44.69 178.00,43.51 178.50,44.34 179.00,44.15 179.50,43.36 180.00,44.12 180.50,43.34 181.00,44.20 181.50,43.47 182.00,44.44 182.50,44.63 183.00,44.86 183.50,44.23 184.00,43.04 184.50,43.45 185.00,42.75 185.50,44.86 186.00,42.85 186.50,44.77 187.00,44.41 187.50,43.41 188.00,43.35 188.50,43.39 189.00,43.40 189.50,43.46 190.00,42.49 190.50,45.06 191.00,44.12 191.50,44.13 192.00,45.10 192.50,43.81 193.00,43.51 193.50,42.83 194.00,43.16 194.50,44.15 195.00,43.74 195.50,43.07 196.00,43.35 196.50,42.47 197.00,42.72 197.50,44.30 198.00,43.90 198.50,43.50 199.00,43.69 199.50,44.55 200.00,44.02 200.50,44.18 201.00,42.92 201.50,44.13 202.00,42.88 202.50,44.06 203.00,43.39 203.50,44.60 204.00,43.79 204.50,42.41 205.00,43.59 205.50,44.03 206.00,44.35 206.50,44.60 207.00,44.00 207.50,45.24 208.00,42.70 208.50,43.54 209.00,42.59 209.50,43.18 210.00,42.73 210.50,43.07 211.00,44.51 211.50,43.60 212.00,44.85 212.50,44.01 213.00,44.30 213.50,44.84 214.00,43.29 214.50,43.56 215.00,44.57 215.50,43.92 216.00,43.30 216.50,46.10 217.00,42.33 217.50,43.75 218.00,43.94 218.50,43.53 219.00,44.11 219.50,43.75 220.00,43.95 220.50,43.88 221.00,43.50 221.50,44.09 222.00,42.72 222.50,43.96 223.00,42.88 223.50,44.65 224.00,45.04 224.50,43.27 225.00,42.45 225.50,42.41 226.00,43.35 226.50,43.45 227.00,43.92 227.50,44.38 228.00,43.54 228.50,43.14 229.00,45.94 229.50,43.83 230.00,43.93 230.50,43.20 231.00,43.99 231.50,43.73 232.00,44.23 232.50,43.69 233.00,42.56 233.50,42.65 234.00,44.44 234.50,44.27 235.00,43.72 235.50,44.24 236.00,44.88 236.50,43.02 237.00,44.73 237.50,45.25 238.00,44.82 238.50,43.48 239.00,44.28 239.50,43.67 240.00,42.95 240.50,43.17 241.00,43.38 241.50,43.43 242.00,43.75 242.50,42.68 243.00,42.21 243.50,43.13 244.00,44.56 244.50,43.82 245.00,44.09 245.50,43.33 246.00,43.23 246.50,43.66 247.00,43.95 247.50,44.10 248.00,45.32 248.50,44.79 249.00,44.29 249.50,42.45 250.00,43.49 250.50,43.61 251.00,42.90 251.50,43.97 252.00,43.46 252.50,43.64 253.00,43.92 253.50,43.16 254.00,44.10 254.50,43.34 255.00,43.77 255.50,44.03 256.00,45.60 256.50,42.77 257.00,44.98 257.50,43.88 258.00,43.09 258.50,43.49 259.00,43.20 259.50,44.50 260.00,44.33 260.50,44.33 261.00,44.49 261.50,42.91 262.00,42.36 262.50,44.20 263.00,43.59 263.50,43.08 263.50,58.58 263.00,58.71 262.50,58.75 262.00,61.12 261.50,59.74 261.00,58.06 260.50,60.42 260.00,58.04 259.50,61.36 259.00,58.27 258.50,59.20 258.00,59.43 257.50,58.83 257.00,58.15 256.50,60.58 256.00,58.89 255.50,59.77 255.00,59.30 254.50,62.35 254.00,64.28 253.50,62.80 253.00,58.97 252.50,58.32 252.00,58.85 251.50,61.39 251.00,61.26 250.50,60.36 250.00,59.82 249.50,58.03 249.00,62.08 248.50,59.22 248.00,59.16 247.50,59.07 247.00,58.19 246.50,64.45 246.00,59.20 245.50,59.31 245.00,59.10 244.50,58.70 244.00,59.74 243.50,59.72 243.00,58.49 242.50,59.45 242.00,58.40 241.50,58.47 241.00,58.79 240.50,67.14 240.00,60.29 239.50,59.52 239.00,58.79 238.50,59.25 238.00,64.90 237.50,58.40 237.00,66.05 236.50,58.85 236.00,58.51 235.50,58.18 235.00,60.20 234.50,61.45 234.00,58.41 233.50,58.56 233.00,62.13 232.50,66.05 232.00,58.98 231.50,58.45 231.00,58.40 230.50,59.48 230.00,58.68 229.50,61.37 229.00,61.12 228.50,62.19 228.00,58.50 227.50,62.51 227.00,59.15 226.50,67.37 226.00,61.40 225.50,63.70 225.00,58.62 224.50,60.94 224.00,59.85 223.50,60.03 223.00,58.59 222.50,60.65 222.00,58.78 221.50,58.46 221.00,58.34 220.50,60.49 220.00,58.18 219.50,58.95 219.00,60.89 218.50,59.66 218.00,59.93 217.50,61.31 217.00,61.34 216.50,66.54 216.00,60.73 215.50,60.52 215.00,61.82 214.50,60.04 214.00,61.78 213.50,61.25 213.00,61.31 212.50,59.26 212.00,59.60 211.50,64.71 211.00,58.23 210.50,58.91 210.00,58.55 209.50,60.72 209.00,58.51 208.50,58.56 208.00,58.17 207.50,59.37 207.00,59.37 206.50,58.21 206.00,60.07 205.50,58.35 205.00,59.38 204.50,60.20 204.00,60.21 203.50,59.98 203.00,59.11 202.50,58.83 202.00,59.20 201.50,58.42 201.00,58.34 200.50,65.32 200.00,59.00 199.50,61.11 199.00,60.06 198.50,58.34 198.00,58.39 197.50,63.59 197.00,58.42 196.50,60.23 196.00,58.49 195.50,60.90 195.00,59.56 194.50,60.74 194.00,59.11 193.50,58.24 193.00,58.02 192.50,61.77 192.00,58.59 191.50,58.75 191.00,58.32 190.50,61.46 190.00,59.18 189.50,59.98 189.00,58.25 188.50,58.56 188.00,60.12 187.50,58.19 187.00,61.15 186.50,64.69 186.00,58.67 185.50,59.71 185.00,59.57 184.50,61.26 184.00,59.95 183.50,58.36 183.00,60.35 182.50,59.03 182.00,60.33 181.50,59.47 181.00,60.17 180.50,64.12 180.00,61.29 179.50,58.74 179.00,58.84 178.50,60.38 178.00,60.98 177.50,58.73 177.00,60.25 176.50,61.23 176.00,62.21 175.50,58.72 175.00,60.66 174.50,62.00 174.00,64.93"/>
<polyline clip-path="url(#cl)" fill="none" stroke="#3aa3a3" stroke-width="0.9" stroke-linejoin="round" points="45.60,210.57 45.87,210.56 46.14,198.72 46.42,176.84 46.69,155.32 46.96,132.86 47.23,112.79 47.50,96.02 47.77,83.09 48.05,76.64 48.32,71.71 48.59,69.06 48.86,68.04 49.13,67.53 49.40,67.14 49.68,66.52 49.95,65.25 50.22,65.25 50.49,65.82 50.76,64.10 51.04,65.51 51.31,64.29 51.58,63.40 51.85,61.86 52.12,62.48 52.39,62.01 52.67,62.30 52.94,62.44 53.21,61.96 53.48,61.37 53.75,61.16 54.02,61.45 54.30,60.29 54.57,59.87 54.84,58.62 55.11,58.76 55.38,58.76 55.65,56.68 55.93,59.06 56.20,57.18 56.47,57.52 56.74,55.05 57.01,56.53 57.29,55.29 57.56,55.78 57.83,54.71 58.10,54.47 58.37,53.72 58.64,55.66 58.92,53.87 59.19,53.30 59.46,52.69 59.73,53.45 60.00,54.48 60.27,53.01 60.55,52.19 60.82,52.57 61.09,51.94 61.36,52.08 61.63,51.48 61.91,52.93 62.18,53.30 62.45,51.17 62.72,50.53 62.99,51.21 63.26,50.93 63.54,51.39 63.81,50.03 64.08,50.13 64.35,50.16 64.62,49.94 64.89,50.26 65.17,50.23 65.44,50.09 65.71,48.30 65.98,49.96 66.25,49.60 66.52,47.91 66.80,49.30 67.07,48.63 67.34,48.95 67.61,48.06 67.88,49.43 68.16,49.26 68.43,49.45 68.70,49.00 68.97,48.95 69.24,48.92 69.51,49.35 69.79,48.38 70.06,48.94 70.33,47.33 70.60,48.74 70.87,47.96 71.14,49.24 71.42,48.34 71.69,47.23 71.96,48.15 72.23,47.44 72.50,48.58 72.78,47.71 73.05,47.53 73.32,47.58 73.59,46.68 73.86,47.56 74.13,47.26 74.41,47.44 74.68,48.16 74.95,46.39 75.22,47.17 75.49,48.33 75.76,47.02 76.04,46.83 76.31,47.24 76.58,47.98 76.85,47.12 77.12,47.92 77.39,46.26 77.67,48.04 77.94,46.77 78.21,47.46 78.48,47.76 78.75,46.47 79.03,48.43 79.30,47.10 79.57,46.60 79.84,48.15 80.11,47.45 80.38,48.56 80.66,46.90 80.93,45.88 81.20,47.12 81.47,45.47 81.74,47.43 82.01,46.84 82.29,45.00 82.56,46.64 82.83,46.03 83.10,45.31 83.37,46.00 83.65,46.03 83.92,46.74 84.19,45.92 84.46,47.57 84.73,48.27 85.00,47.03 85.28,45.96 85.55,46.58 85.82,46.60 86.09,45.93 86.36,46.38 86.63,47.56 86.91,45.99 87.18,47.28 87.45,46.42 87.72,45.84 87.99,46.38 88.26,47.26 88.54,46.52 88.81,46.15 89.08,46.42 89.35,45.83 89.62,46.74 89.90,47.29 90.17,47.36 90.44,47.96 90.71,47.09 90.98,44.91 91.25,46.88 91.53,45.55 91.80,46.27 92.07,46.04 92.34,46.96 92.61,46.55 92.88,46.23 93.16,46.66 93.43,45.45 93.70,45.93 93.97,47.16 94.24,48.11 94.52,46.33 94.79,47.77 95.06,46.67 95.33,47.62 95.60,45.69 95.87,46.79 96.15,47.83 96.42,47.24 96.69,49.93 96.96,48.59 97.23,49.04 97.50,47.76 97.78,45.86 98.05,45.05 98.32,45.66 98.59,46.29 98.86,50.06 99.13,53.22 99.41,55.11 99.68,49.80 99.95,44.90 100.22,43.72 100.49,43.58 100.77,46.88 101.04,51.50 101.31,57.59 101.58,56.67 101.85,51.82 102.12,47.89 102.40,44.97 102.67,44.55 102.94,45.49 103.21,48.39 103.48,52.28 103.75,58.17 104.03,58.96 104.30,51.73 104.57,46.14 104.84,44.21 105.11,42.60 105.39,45.81 105.66,51.56 105.93,55.68 106.20,54.84 106.47,55.31 106.74,52.68 107.02,47.65 107.29,44.84 107.56,44.39 107.83,44.78 108.10,49.40 108.37,54.92 108.65,56.52 108.92,52.24 109.19,51.36 109.46,48.91 109.73,44.71 110.00,44.46 110.28,43.85 110.55,47.50 110.82,53.40 111.09,58.01 111.36,55.67 111.64,50.39 111.91,46.43 112.18,43.63 112.45,43.71 112.72,46.34 112.99,51.05 113.27,53.96 113.54,54.90 113.81,50.34 114.08,48.22 114.35,44.13 114.62,43.90 114.90,44.75 115.17,46.56 115.44,54.89 115.71,57.49 115.98,56.19 116.25,51.73 116.53,46.40 116.80,43.85 117.07,44.03 117.34,44.24 117.61,48.93 117.89,51.34 118.16,59.66 118.43,56.09 118.70,49.23 118.97,46.12 119.24,44.53 119.52,44.14 119.79,46.05 120.06,52.38 120.33,57.55 120.60,53.05 120.87,53.06 121.15,49.74 121.42,47.10 121.69,45.98 121.96,44.66 122.23,48.17 122.51,50.16 122.78,52.79 123.05,57.42 123.32,53.19 123.59,49.22 123.86,44.50 124.14,43.78 124.41,46.79 124.68,53.67 124.95,58.64 125.22,57.31 125.49,54.48 125.77,50.18 126.04,47.80 126.31,42.80 126.58,44.76 126.85,48.83 127.12,52.95 127.40,52.93 127.67,59.36 127.94,53.81 128.21,47.24 128.48,44.85 128.76,44.74 129.03,48.07 129.30,54.67 129.57,56.87 129.84,52.07 130.11,53.91 130.39,46.76 130.66,43.81 130.93,44.48 131.20,45.88 131.47,47.99 131.74,55.85 132.02,55.01 132.29,53.47 132.56,48.27 132.83,45.57 133.10,42.70 133.38,44.00 133.65,48.49 133.92,53.88 134.19,51.86 134.46,56.04 134.73,53.44 135.01,49.47 135.28,46.11 135.55,44.37 135.82,44.93 136.09,49.30 136.36,53.72 136.64,56.67 136.91,53.03 137.18,51.34 137.45,45.83 137.72,44.07 138.00,44.55 138.27,45.49 138.54,48.83 138.81,55.36 139.08,59.37 139.35,54.75 139.63,50.12 139.90,45.86 140.17,45.38 140.44,43.86 140.71,46.87 140.98,51.71 141.26,58.43 141.53,56.89 141.80,54.33 142.07,50.06 142.34,44.95 142.61,43.78 142.89,45.13 143.16,46.51 143.43,51.44 143.70,52.94 143.97,53.97 144.25,57.22 144.52,53.50 144.79,49.25 145.06,43.99 145.33,45.13 145.60,45.82 145.88,48.80 146.15,59.59 146.42,54.03 146.69,50.18 146.96,49.60 147.23,43.93 147.51,45.55 147.78,47.26 148.05,52.25 148.32,56.06 148.59,56.41 148.87,56.82 149.14,50.81 149.41,43.10 149.68,45.18 149.95,45.11 150.22,50.46 150.50,50.31 150.77,56.78 151.04,58.89 151.31,56.15 151.58,49.96 151.85,45.04 152.13,46.18 152.40,47.28 152.67,50.10 152.94,53.07 153.21,58.45 153.48,60.07 153.76,51.18 154.03,47.72 154.30,51.20 154.57,43.86 154.84,44.69 155.12,49.48 155.39,53.12 155.66,55.35 155.93,56.00 156.20,52.12 156.47,45.37 156.75,44.06 157.02,45.93 157.29,46.41 157.56,49.97 157.83,62.80 158.10,57.80 158.38,52.37 158.65,47.94 158.92,46.86 159.19,42.95 159.46,52.18 159.74,47.02 160.01,52.19 160.28,57.04 160.55,54.20 160.82,52.63 161.09,48.76 161.37,44.57 161.64,43.96 161.91,45.00 162.18,49.86 162.45,55.85 162.72,56.52 163.00,56.41 163.27,49.01 163.54,45.51 163.81,46.07 164.08,44.86 164.35,44.96 164.63,51.56 164.90,55.32 165.17,56.86 165.44,49.89 165.71,48.31 165.99,44.05 166.26,44.42 166.53,45.39 166.80,48.92 167.07,50.57 167.34,57.81 167.62,52.00 167.89,52.64 168.16,45.79 168.43,44.07 168.70,43.91 168.97,43.48 169.25,43.97 169.52,51.24 169.79,57.38 170.06,55.19 170.33,56.58 170.61,50.18 170.88,46.54 171.15,44.17 171.42,44.93 171.69,43.10 171.96,50.41 172.24,55.47 172.51,54.70 172.78,54.07 173.05,48.85 173.32,45.26 173.59,43.77 173.87,44.09 174.14,44.69 174.41,47.85 174.68,49.24 174.95,56.34 175.22,59.95 175.50,49.76 175.77,47.95 176.04,43.49 176.31,44.01 176.58,43.96 176.86,51.75 177.13,52.53 177.40,57.09 177.67,52.07 177.94,51.70 178.21,42.26 178.49,42.69 178.76,41.28 179.03,49.11 179.30,54.95 179.57,56.31 179.84,53.97 180.12,55.59 180.39,48.42 180.66,45.69 180.93,42.48 181.20,47.70 181.47,45.47 181.75,54.83 182.02,59.04 182.29,55.10 182.56,53.14 182.83,50.37 183.11,46.64 183.38,43.44 183.65,49.90 183.92,51.74 184.19,52.89 184.46,58.83 184.74,53.75 185.01,50.90 185.28,44.19 185.55,43.49 185.82,43.53 186.09,51.62 186.37,55.69 186.64,54.52 186.91,55.29 187.18,50.77 187.45,43.93 187.73,46.17 188.00,44.37 188.27,47.47 188.54,51.67 188.81,51.63 189.08,60.50 189.36,54.22 189.63,50.77 189.90,46.72 190.17,43.30 190.44,46.97 190.71,51.14 190.99,50.97 191.26,58.82 191.53,58.25 191.80,59.21 192.07,50.00 192.34,44.32 192.62,42.95 192.89,45.52 193.16,46.11 193.43,48.76 193.70,51.77 193.98,56.75 194.25,53.99 194.52,49.87 194.79,46.93 195.06,45.88 195.33,43.78 195.61,54.57 195.88,53.52 196.15,57.72 196.42,56.25 196.69,51.56 196.96,48.53 197.24,45.56 197.51,43.25 197.78,46.41 198.05,50.98 198.32,54.56 198.60,52.15 198.87,58.67 199.14,48.94 199.41,43.36 199.68,43.35 199.95,46.64 200.23,51.00 200.50,58.68 200.77,53.73 201.04,58.84 201.31,52.75 201.58,45.58 201.86,42.02 202.13,42.51 202.40,44.50 202.67,49.18 202.94,57.00 203.22,61.72 203.49,57.97 203.76,46.42 204.03,47.78 204.30,46.87 204.57,44.63 204.85,48.70 205.12,54.55 205.39,57.86 205.66,56.12 205.93,57.96 206.20,47.78 206.48,41.97 206.75,41.99 207.02,45.07 207.29,47.84 207.56,54.19 207.83,59.06 208.11,60.31 208.38,57.07 208.65,47.08 208.92,43.33 209.19,48.26 209.47,47.15 209.74,52.30 210.01,60.43 210.28,60.92 210.55,57.51 210.82,50.74 211.10,45.78 211.37,45.84 211.64,45.66 211.91,48.73 212.18,54.08 212.45,52.92 212.73,55.10 213.00,47.18 213.27,42.99 213.54,43.10 213.81,47.67 214.09,51.88 214.36,52.68 214.63,58.00 214.90,54.11 215.17,48.68 215.44,48.47 215.72,43.61 215.99,46.19 216.26,45.25 216.53,46.03 216.80,55.94 217.07,57.61 217.35,52.74 217.62,55.28 217.89,47.34 218.16,46.23 218.43,43.66 218.70,44.50 218.98,48.66 219.25,51.41 219.52,57.43 219.79,49.33 220.06,52.57 220.34,44.49 220.61,45.90 220.88,42.30 221.15,46.47 221.42,47.60 221.69,54.30 221.97,56.11 222.24,56.56 222.51,51.98 222.78,46.00 223.05,42.61 223.32,44.35 223.60,45.58 223.87,51.10 224.14,60.15 224.41,57.69 224.68,55.25 224.96,49.58 225.23,44.48 225.50,45.45 225.77,47.87 226.04,47.11 226.31,56.50 226.59,59.41 226.86,55.08 227.13,52.10 227.40,48.31 227.67,45.46 227.94,41.56 228.22,45.15 228.49,50.19 228.76,55.73 229.03,60.42 229.30,62.73 229.57,49.42 229.85,48.85 230.12,43.57 230.39,46.28 230.66,48.42 230.93,53.59 231.21,54.58 231.48,58.84 231.75,59.33 232.02,46.08 232.29,47.20 232.56,44.11 232.84,46.11 233.11,48.61 233.38,59.21 233.65,55.17 233.92,49.33 234.19,58.08 234.47,50.14 234.74,45.10 235.01,47.44 235.28,47.17 235.55,48.61 235.82,50.14 236.10,60.40 236.37,60.04 236.64,56.71 236.91,48.40 237.18,45.55 237.46,42.87 237.73,43.52 238.00,45.32 238.27,50.42 238.54,53.46 238.81,62.99 239.09,57.60 239.36,46.93 239.63,48.69 239.90,43.07 240.17,45.83 240.44,44.56 240.72,50.44 240.99,57.86 241.26,56.84 241.53,53.97 241.80,52.41 242.08,45.98 242.35,42.37 242.62,44.52 242.89,46.84 243.16,49.07 243.43,55.50 243.71,55.62 243.98,54.64 244.25,48.76 244.52,45.59 244.79,44.47 245.06,45.95 245.34,50.59 245.61,49.15 245.88,62.45 246.15,60.24 246.42,58.40 246.70,50.14 246.97,46.47 247.24,46.93 247.51,43.99 247.78,43.08 248.05,53.58 248.33,60.67 248.60,52.22 248.87,52.43 249.14,43.25 249.41,44.69 249.68,48.60 249.96,44.44 250.23,46.91 250.50,52.75 250.77,56.90 251.04,54.55 251.31,52.29 251.59,52.12 251.86,46.99 252.13,44.39 252.40,42.90 252.67,48.20 252.95,47.26 253.22,53.49 253.49,61.06 253.76,51.78 254.03,50.08 254.30,43.93 254.58,43.68 254.85,44.52 255.12,49.07 255.39,51.50 255.66,54.01 255.93,53.60 256.21,51.26 256.48,44.78 256.75,42.84 257.02,39.76 257.29,45.86 257.56,53.71 257.84,58.77 258.11,56.58 258.38,52.37 258.65,48.08 258.92,47.13 259.20,45.31 259.47,44.22 259.74,47.78 260.01,52.46 260.28,57.54 260.55,58.57 260.83,57.96 261.10,46.70 261.37,46.67 261.64,44.79 261.91,43.82 262.18,45.68 262.46,54.74 262.73,53.63 263.00,58.30"/>
<polyline clip-path="url(#cl)" fill="none" stroke="#3c3c3c" stroke-width="1.05" points="46.20,210.51 46.51,179.40 46.82,152.09 47.13,130.94 47.44,113.33 47.75,98.34 48.06,94.30 48.37,91.58 48.68,89.28 48.99,87.77 49.30,86.41 49.61,84.70 49.92,83.29 50.23,82.32 50.54,80.36 50.85,79.02 51.16,78.22 51.47,77.92 51.78,77.17 52.09,76.45 52.40,76.26 52.71,75.53 53.02,75.24 53.33,74.85 53.64,74.10 53.95,73.94 54.26,73.46 54.57,72.93 54.88,73.35 55.19,72.56 55.50,72.07 55.81,72.05 56.13,71.35 56.44,71.15 56.75,71.23 57.06,70.78 57.37,70.79 57.68,70.59 57.99,70.15 58.30,70.38 58.61,70.13 58.92,69.98 59.23,69.98 59.54,69.40 59.85,69.38 60.16,69.32 60.47,69.34 60.78,69.49 61.09,69.48 61.40,69.28 61.71,69.24 62.02,69.39 62.33,68.81 62.64,68.87 62.95,69.38 63.26,68.77 63.57,68.85 63.88,68.86 64.19,69.09 64.50,68.94 64.81,68.62 65.12,68.42 65.43,68.83 65.74,68.56 66.05,68.33 66.36,68.76 66.67,68.28 66.98,68.30 67.29,68.61 67.60,68.18 67.91,68.74 68.22,68.65 68.53,67.91 68.84,68.26 69.15,68.45 69.46,68.36 69.77,68.37 70.08,67.88 70.39,68.46 70.70,68.01 71.01,68.00 71.32,67.98 71.63,68.22 71.94,67.90 72.25,67.94 72.56,67.68 72.87,67.63 73.18,67.98 73.49,67.69 73.80,67.67 74.11,68.07 74.42,67.89 74.73,67.95 75.04,68.09 75.35,68.02 75.66,68.17 75.98,68.10 76.29,67.83 76.60,67.95 76.91,67.94 77.22,67.81 77.53,68.02 77.84,67.84 78.15,68.04 78.46,68.03 78.77,67.88 79.08,68.36 79.39,68.36 79.70,68.41 80.01,68.37 80.32,68.41 80.63,68.18 80.94,68.53 81.25,68.09 81.56,68.08 81.87,68.15 82.18,68.00 82.49,68.13 82.80,68.56 83.11,67.82 83.42,67.85 83.73,68.21 84.04,68.51 84.35,68.19 84.66,68.45 84.97,68.15 85.28,68.23 85.59,68.30 85.90,67.87 86.21,68.04 86.52,68.15 86.83,68.29 87.14,68.40 87.45,68.26 87.76,68.48 88.07,68.14 88.38,68.48 88.69,68.55 89.00,68.40 89.31,68.19 89.62,68.59 89.93,68.70 90.24,68.50 90.55,68.33 90.86,68.54 91.17,68.72 91.48,68.36 91.79,68.14 92.10,68.55 92.41,68.83 92.72,68.53 93.03,68.59 93.34,68.43 93.65,68.34 93.96,68.77 94.27,68.95 94.58,68.69 94.89,68.55 95.20,68.49 95.52,69.04 95.83,68.58 96.14,68.71 96.45,68.86 96.76,68.97 97.07,68.79 97.38,68.57 97.69,68.74 98.00,68.67 98.31,68.88 98.62,68.74 98.93,69.00 99.24,68.73 99.55,68.92 99.86,69.12 100.17,69.19 100.48,68.64 100.79,69.09 101.10,69.02 101.41,69.03 101.72,68.88 102.03,68.76 102.34,69.09 102.65,69.33 102.96,68.74 103.27,69.06 103.58,69.23 103.89,69.32 104.20,68.81 104.51,69.19 104.82,68.79 105.13,69.46 105.44,69.14 105.75,69.30 106.06,69.21 106.37,68.93 106.68,69.62 106.99,69.33 107.30,69.17 107.61,68.85 107.92,69.57 108.23,69.07 108.54,69.30 108.85,69.51 109.16,69.56 109.47,69.27 109.78,69.37 110.09,69.49 110.40,69.42 110.71,68.90 111.02,69.43 111.33,69.29 111.64,69.52 111.95,69.17 112.26,69.39 112.57,69.42 112.88,69.44 113.19,69.22 113.50,69.34 113.81,69.55 114.12,70.05 114.43,69.48 114.74,69.70 115.05,69.62 115.37,69.81 115.68,69.15 115.99,69.11 116.30,69.56 116.61,69.49 116.92,69.46 117.23,69.54 117.54,69.75 117.85,70.07 118.16,69.24 118.47,69.48 118.78,69.72 119.09,69.41 119.40,69.63 119.71,69.57 120.02,69.54 120.33,69.71 120.64,69.58 120.95,69.80 121.26,70.09 121.57,69.59 121.88,69.85 122.19,69.71 122.50,69.63 122.81,69.92 123.12,69.92 123.43,69.78 123.74,69.98 124.05,69.55 124.36,69.84 124.67,69.89 124.98,69.49 125.29,70.26 125.60,69.83 125.91,69.84 126.22,70.10 126.53,70.12 126.84,70.02 127.15,70.04 127.46,69.88 127.77,69.67 128.08,69.70 128.39,69.97 128.70,70.30 129.01,69.82 129.32,70.23 129.63,69.84 129.94,70.08 130.25,70.36 130.56,70.01 130.87,69.65 131.18,70.43 131.49,69.93 131.80,70.52 132.11,70.45 132.42,70.53 132.73,70.20 133.04,70.54 133.35,70.13 133.66,70.46 133.97,70.16 134.28,70.36 134.59,70.43 134.91,70.16 135.22,69.99 135.53,70.36 135.84,70.34 136.15,70.33 136.46,70.47 136.77,70.17 137.08,69.94 137.39,70.03 137.70,70.21 138.01,70.01 138.32,70.30 138.63,70.33 138.94,70.03 139.25,70.45 139.56,70.19 139.87,69.97 140.18,70.49 140.49,70.30 140.80,70.48 141.11,70.55 141.42,70.11 141.73,70.44 142.04,70.83 142.35,70.69 142.66,70.38 142.97,70.53 143.28,70.58 143.59,70.59 143.90,70.30 144.21,70.47 144.52,70.13 144.83,70.67 145.14,70.39 145.45,70.50 145.76,70.79 146.07,70.55 146.38,70.31 146.69,70.50 147.00,70.63 147.31,70.31 147.62,70.79 147.93,70.69 148.24,70.69 148.55,70.37 148.86,70.34 149.17,70.81 149.48,70.56 149.79,70.50 150.10,70.58 150.41,70.63 150.72,70.83 151.03,70.56 151.34,70.69 151.65,70.36 151.96,70.95 152.27,70.68 152.58,70.61 152.89,70.53 153.20,70.56 153.51,70.74 153.82,70.30 154.13,71.02 154.44,70.62 154.76,70.98 155.07,70.44 155.38,70.32 155.69,70.42 156.00,70.67 156.31,70.76 156.62,70.75 156.93,71.09 157.24,70.60 157.55,70.40 157.86,70.58 158.17,70.48 158.48,70.71 158.79,70.68 159.10,70.60 159.41,70.68 159.72,70.79 160.03,70.54 160.34,70.95 160.65,70.53 160.96,70.83 161.27,70.35 161.58,70.80 161.89,70.85 162.20,70.97 162.51,70.56 162.82,70.72 163.13,70.64 163.44,71.03 163.75,70.72 164.06,70.79 164.37,70.75 164.68,70.66 164.99,71.04 165.30,70.81 165.61,70.73 165.92,71.05 166.23,70.75 166.54,70.86 166.85,70.52 167.16,70.70 167.47,71.10 167.78,70.95 168.09,70.86 168.40,70.68 168.71,70.90 169.02,70.91 169.33,70.94 169.64,70.88 169.95,70.81 170.26,71.11 170.57,70.86 170.88,70.94 171.19,70.35 171.50,70.96 171.81,70.93 172.12,70.88 172.43,71.21 172.74,70.93 173.05,71.17 173.36,71.11 173.67,71.10 173.98,70.87 174.29,71.13 174.61,71.26 174.92,71.15 175.23,71.35 175.54,70.86 175.85,70.70 176.16,71.08 176.47,71.15 176.78,70.94 177.09,71.06 177.40,70.85 177.71,70.95 178.02,71.04 178.33,70.97 178.64,71.27 178.95,71.11 179.26,70.89 179.57,70.75 179.88,71.21 180.19,70.62 180.50,70.80 180.81,70.99 181.12,70.68 181.43,70.92 181.74,71.24 182.05,71.14 182.36,70.87 182.67,71.01 182.98,71.02 183.29,71.23 183.60,70.82 183.91,70.75 184.22,70.95 184.53,70.96 184.84,70.42 185.15,70.42 185.46,70.68 185.77,70.58 186.08,70.74 186.39,70.96 186.70,70.46 187.01,70.74 187.32,70.76 187.63,70.58 187.94,71.05 188.25,70.87 188.56,70.48 188.87,70.95 189.18,70.79 189.49,71.05 189.80,70.80 190.11,71.03 190.42,71.15 190.73,70.60 191.04,70.82 191.35,70.80 191.66,70.74 191.97,70.87 192.28,70.97 192.59,70.85 192.90,70.89 193.21,70.79 193.52,70.88 193.83,70.88 194.15,70.87 194.46,70.94 194.77,71.01 195.08,71.11 195.39,70.88 195.70,70.70 196.01,70.61 196.32,70.79 196.63,70.82 196.94,71.39 197.25,70.76 197.56,70.45 197.87,70.76 198.18,70.58 198.49,70.71 198.80,70.63 199.11,70.79 199.42,71.02 199.73,70.97 200.04,70.79 200.35,71.08 200.66,70.85 200.97,70.87 201.28,70.05 201.59,70.55 201.90,70.65 202.21,70.64 202.52,70.60 202.83,70.60 203.14,70.55 203.45,70.87 203.76,70.50 204.07,70.56 204.38,70.81 204.69,71.11 205.00,70.94 205.31,70.51 205.62,70.81 205.93,70.77 206.24,70.99 206.55,70.37 206.86,70.79 207.17,70.53 207.48,70.24 207.79,70.99 208.10,70.86 208.41,70.76 208.72,70.49 209.03,70.90 209.34,70.77 209.65,70.67 209.96,70.63 210.27,70.59 210.58,70.85 210.89,70.90 211.20,70.51 211.51,70.65 211.82,70.46 212.13,70.68 212.44,70.50 212.75,70.89 213.06,70.48 213.37,70.77 213.68,70.63 214.00,70.52 214.31,70.45 214.62,71.03 214.93,70.42 215.24,70.67 215.55,70.35 215.86,70.50 216.17,70.19 216.48,70.77 216.79,70.74 217.10,70.62 217.41,70.82 217.72,70.90 218.03,70.37 218.34,70.87 218.65,70.52 218.96,70.52 219.27,70.63 219.58,70.68 219.89,70.47 220.20,70.41 220.51,70.53 220.82,70.47 221.13,70.61 221.44,70.43 221.75,70.72 222.06,70.94 222.37,70.42 222.68,70.28 222.99,70.36 223.30,70.40 223.61,70.76 223.92,70.76 224.23,70.71 224.54,70.38 224.85,70.34 225.16,70.25 225.47,70.40 225.78,70.52 226.09,70.40 226.40,70.26 226.71,70.62 227.02,70.79 227.33,70.40 227.64,70.40 227.95,70.63 228.26,70.44 228.57,70.24 228.88,70.26 229.19,70.59 229.50,70.57 229.81,70.31 230.12,70.36 230.43,70.33 230.74,70.45 231.05,70.59 231.36,70.40 231.67,69.84 231.98,70.44 232.29,70.49 232.60,70.21 232.91,70.05 233.22,70.00 233.54,70.44 233.85,70.23 234.16,70.47 234.47,70.56 234.78,70.04 235.09,70.21 235.40,70.05 235.71,70.03 236.02,70.49 236.33,70.01 236.64,70.21 236.95,70.49 237.26,70.30 237.57,70.10 237.88,70.34 238.19,70.28 238.50,70.62 238.81,69.96 239.12,70.20 239.43,70.29 239.74,70.23 240.05,70.11 240.36,70.32 240.67,70.13 240.98,70.17 241.29,70.48 241.60,70.56 241.91,70.23 242.22,70.21 242.53,70.05 242.84,69.78 243.15,69.57 243.46,70.30 243.77,70.26 244.08,70.15 244.39,69.92 244.70,70.23 245.01,70.42 245.32,70.14 245.63,69.75 245.94,69.67 246.25,69.92 246.56,69.89 246.87,70.11 247.18,69.57 247.49,70.12 247.80,69.90 248.11,70.24 248.42,69.92 248.73,70.04 249.04,69.83 249.35,69.66 249.66,70.26 249.97,69.77 250.28,69.61 250.59,69.86 250.90,69.90 251.21,69.78 251.52,69.75 251.83,69.78 252.14,69.94 252.45,70.03 252.76,69.89 253.07,69.87 253.39,69.98 253.70,69.59 254.01,69.84 254.32,70.07 254.63,69.66 254.94,70.03 255.25,69.80 255.56,69.98 255.87,69.54 256.18,69.55 256.49,69.98 256.80,69.63 257.11,69.58 257.42,69.73 257.73,69.04 258.04,69.84 258.35,70.01 258.66,69.66 258.97,69.23 259.28,69.16 259.59,69.66 259.90,70.04 260.21,69.65 260.52,69.67 260.83,69.81 261.14,69.50 261.45,69.80 261.76,69.26 262.07,69.55 262.38,69.51 262.69,69.52 263.00,69.09"/>
<polyline clip-path="url(#cr)" fill="none" stroke="#f29b3c" stroke-width="1.05" stroke-linejoin="round" points="307.20,194.94 308.20,181.70 309.20,201.36 310.20,188.38 311.20,207.35 312.20,199.60 313.20,179.44 314.20,201.33 315.20,197.91 316.20,196.08 317.20,199.84 318.21,196.49 319.21,194.86 320.21,206.12 321.21,208.09 322.21,193.83 323.21,191.38 324.21,197.62 325.21,201.75 326.21,194.23 327.21,191.84 328.21,192.80 329.21,202.41 330.21,194.43 331.21,197.48 332.21,202.18 333.21,196.04 334.21,200.87 335.21,192.88 336.21,197.23 337.21,190.54 338.21,201.15 339.21,201.56 340.22,192.07 341.22,194.70 342.22,179.46 343.22,189.06 344.22,179.87 345.22,183.87 346.22,167.73 347.22,173.48 348.22,179.17 349.22,203.01 350.22,165.57 351.22,172.62 352.22,159.12 353.22,191.26 354.22,166.93 355.22,183.46 356.22,164.03 357.22,22.85 358.22,169.18 359.22,183.59 360.22,187.85 361.22,190.12 362.23,208.67 363.23,201.83 364.23,198.72 365.23,198.33 366.23,188.21 367.23,191.00 368.23,182.90 369.23,189.83 370.23,186.72 371.23,188.66 372.23,198.71 373.23,198.64 374.23,195.80 375.23,206.36 376.23,201.42 377.23,180.16 378.23,186.99 379.23,200.02 380.23,200.10 381.23,204.11 382.23,186.84 383.24,203.79 384.24,183.40 385.24,197.65 386.24,193.86 387.24,196.21 388.24,200.88 389.24,200.77 390.24,200.91 391.24,208.63 392.24,202.69 393.24,192.12 394.24,188.60 395.24,201.97 396.24,191.41 397.24,203.20 398.24,199.86 399.24,203.81 400.24,204.32 401.24,197.10 402.24,191.00 403.24,197.61 404.24,205.66 405.25,193.55 406.25,194.94 407.25,151.15 408.25,194.94 409.25,191.36 410.25,205.33 411.25,199.45 412.25,201.99 413.25,204.27 414.25,202.77 415.25,208.64 416.25,202.09 417.25,202.73 418.25,196.56 419.25,206.47 420.25,198.58 421.25,203.32 422.25,204.55 423.25,206.59 424.25,196.86 425.25,205.03 426.25,198.71 427.26,208.33 428.26,203.37 429.26,204.71 430.26,202.77 431.26,205.60 432.26,205.90 433.26,193.14 434.26,199.18 435.26,204.00 436.26,199.88 437.26,205.10 438.26,203.68 439.26,203.03 440.26,200.81 441.26,203.74 442.26,208.41 443.26,203.98 444.26,205.98 445.26,202.68 446.26,205.50 447.26,205.78 448.26,206.42 449.27,202.29 450.27,206.35 451.27,202.25 452.27,204.01 453.27,201.66 454.27,202.67 455.27,195.97 456.27,177.42 457.27,195.97 458.27,202.67 459.27,206.10 460.27,205.60 461.27,201.36 462.27,208.16 463.27,203.20 464.27,207.54 465.27,202.06 466.27,205.64 467.27,202.36 468.27,208.04 469.27,206.74 470.28,203.51 471.28,208.29 472.28,201.91 473.28,204.60 474.28,209.14 475.28,202.94 476.28,206.72 477.28,208.93 478.28,205.98 479.28,207.26 480.28,202.85 481.28,205.12 482.28,209.61 483.28,204.86 484.28,206.79 485.28,200.73 486.28,208.58 487.28,207.17 488.28,206.23 489.28,207.28 490.28,208.57 491.28,208.08 492.29,206.55 493.29,207.14 494.29,202.35 495.29,203.18 496.29,206.33 497.29,206.86 498.29,206.84 499.29,207.67 500.29,200.56 501.29,205.98 502.29,205.57 503.29,203.45 504.29,202.14 505.29,208.01 506.29,203.62 507.29,208.61 508.29,201.73 509.29,203.51 510.29,208.05 511.29,205.42 512.29,207.74 513.29,206.55 514.30,208.40 515.30,207.45 516.30,201.48 517.30,206.73 518.30,205.92 519.30,202.65 520.30,208.46 521.30,207.86 522.30,201.68 523.30,204.94 524.30,208.19"/>
<polyline clip-path="url(#cr)" fill="none" stroke="#3565ae" stroke-width="1.05" stroke-linejoin="round" points="307.20,184.55 308.20,188.34 309.20,195.18 310.20,204.12 311.20,198.30 312.20,193.02 313.20,198.21 314.20,201.22 315.20,197.63 316.20,189.02 317.20,199.12 318.21,192.38 319.21,199.43 320.21,197.22 321.21,192.23 322.21,191.74 323.21,194.42 324.21,198.39 325.21,201.83 326.21,200.80 327.21,191.86 328.21,199.05 329.21,200.84 330.21,197.56 331.21,197.22 332.21,191.65 333.21,179.98 334.21,194.83 335.21,188.27 336.21,196.09 337.21,186.67 338.21,205.16 339.21,198.43 340.22,192.00 341.22,171.78 342.22,186.32 343.22,198.22 344.22,199.71 345.22,169.33 346.22,195.58 347.22,194.14 348.22,191.15 349.22,178.88 350.22,166.19 351.22,145.99 352.22,122.81 353.22,97.56 354.22,138.27 355.22,169.18 356.22,173.89 357.22,167.34 358.22,161.58 359.22,185.65 360.22,186.52 361.22,180.90 362.23,189.65 363.23,195.04 364.23,203.08 365.23,200.93 366.23,190.76 367.23,197.98 368.23,185.51 369.23,200.33 370.23,188.08 371.23,187.56 372.23,176.89 373.23,202.52 374.23,185.64 375.23,196.56 376.23,177.85 377.23,188.00 378.23,196.76 379.23,200.15 380.23,191.55 381.23,195.09 382.23,196.42 383.24,188.75 384.24,204.96 385.24,181.55 386.24,194.19 387.24,197.91 388.24,203.80 389.24,203.97 390.24,194.83 391.24,194.82 392.24,204.84 393.24,205.88 394.24,201.40 395.24,192.92 396.24,187.84 397.24,203.10 398.24,204.44 399.24,196.37 400.24,193.22 401.24,196.89 402.24,196.05 403.24,199.90 404.24,202.30 405.25,189.77 406.25,205.05 407.25,208.03 408.25,198.15 409.25,199.01 410.25,190.72 411.25,200.62 412.25,204.12 413.25,205.32 414.25,202.75 415.25,202.86 416.25,209.88 417.25,202.55 418.25,201.06 419.25,202.52 420.25,203.09 421.25,204.30 422.25,203.88 423.25,207.23 424.25,206.02 425.25,199.08 426.25,200.28 427.26,207.72 428.26,206.97 429.26,204.40 430.26,207.62 431.26,204.07 432.26,199.62 433.26,206.09 434.26,207.17 435.26,201.82 436.26,202.86 437.26,209.69 438.26,207.60 439.26,202.54 440.26,203.39 441.26,198.02 442.26,198.77 443.26,194.86 444.26,205.87 445.26,200.10 446.26,203.24 447.26,205.89 448.26,202.69 449.27,205.60 450.27,201.07 451.27,208.05 452.27,202.93 453.27,196.13 454.27,202.06 455.27,200.36 456.27,201.77 457.27,209.83 458.27,207.04 459.27,202.61 460.27,205.78 461.27,206.89 462.27,207.04 463.27,207.23 464.27,208.72 465.27,205.26 466.27,206.85 467.27,208.76 468.27,204.61 469.27,206.23 470.28,201.86 471.28,205.65 472.28,204.44 473.28,207.12 474.28,201.66 475.28,205.63 476.28,203.06 477.28,206.55 478.28,207.99 479.28,203.04 480.28,207.82 481.28,205.37 482.28,201.08 483.28,207.79 484.28,206.43 485.28,208.28 486.28,203.32 487.28,209.33 488.28,201.11 489.28,203.62 490.28,204.67 491.28,208.27 492.29,205.82 493.29,206.49 494.29,206.13 495.29,200.94 496.29,206.89 497.29,208.01 498.29,202.25 499.29,202.84 500.29,203.86 501.29,206.88 502.29,207.10 503.29,204.90 504.29,203.81 505.29,204.63 506.29,206.66 507.29,205.65 508.29,203.30 509.29,207.27 510.29,209.25 511.29,207.40 512.29,200.82 513.29,208.27 514.30,200.69 515.30,207.05 516.30,203.78 517.30,206.21 518.30,206.14 519.30,202.61 520.30,208.75 521.30,205.12 522.30,203.87 523.30,207.39 524.30,205.70"/>
<polyline clip-path="url(#cr)" fill="none" stroke="#dc2020" stroke-width="1.05" stroke-linejoin="round" points="307.20,198.86 308.20,174.53 309.20,182.92 310.20,200.68 311.20,193.71 312.20,200.68 313.20,189.07 314.20,203.54 315.20,198.82 316.20,200.52 317.20,206.20 318.21,192.68 319.21,185.68 320.21,188.52 321.21,200.66 322.21,195.76 323.21,196.69 324.21,199.12 325.21,194.27 326.21,183.75 327.21,203.52 328.21,199.64 329.21,200.28 330.21,185.63 331.21,191.86 332.21,206.62 333.21,184.25 334.21,187.96 335.21,196.65 336.21,207.41 337.21,185.94 338.21,207.03 339.21,169.80 340.22,170.24 341.22,190.11 342.22,180.34 343.22,199.81 344.22,189.31 345.22,205.09 346.22,186.10 347.22,167.67 348.22,178.24 349.22,180.17 350.22,184.23 351.22,198.47 352.22,161.13 353.22,153.72 354.22,127.96 355.22,96.01 356.22,133.11 357.22,164.03 358.22,190.40 359.22,187.92 360.22,182.26 361.22,196.06 362.23,205.84 363.23,196.33 364.23,196.69 365.23,184.43 366.23,178.75 367.23,187.47 368.23,195.37 369.23,206.67 370.23,198.05 371.23,197.65 372.23,201.35 373.23,203.92 374.23,207.53 375.23,207.56 376.23,192.78 377.23,190.06 378.23,206.31 379.23,204.16 380.23,179.55 381.23,202.35 382.23,199.84 383.24,192.94 384.24,191.31 385.24,202.76 386.24,200.41 387.24,201.10 388.24,191.96 389.24,198.23 390.24,208.63 391.24,180.16 392.24,202.93 393.24,199.48 394.24,201.03 395.24,178.48 396.24,201.71 397.24,204.13 398.24,199.00 399.24,204.78 400.24,206.39 401.24,187.10 402.24,205.46 403.24,205.94 404.24,208.70 405.25,201.56 406.25,192.11 407.25,206.93 408.25,207.29 409.25,194.39 410.25,195.59 411.25,197.84 412.25,201.57 413.25,206.39 414.25,204.57 415.25,206.93 416.25,205.68 417.25,196.56 418.25,199.65 419.25,201.45 420.25,202.04 421.25,199.16 422.25,202.70 423.25,201.94 424.25,198.15 425.25,198.29 426.25,200.58 427.26,206.25 428.26,204.59 429.26,203.04 430.26,207.24 431.26,205.94 432.26,206.43 433.26,208.39 434.26,203.55 435.26,204.39 436.26,206.56 437.26,198.58 438.26,206.41 439.26,206.86 440.26,200.63 441.26,208.53 442.26,202.14 443.26,200.02 444.26,209.26 445.26,204.10 446.26,207.83 447.26,200.64 448.26,207.92 449.27,208.15 450.27,203.83 451.27,206.83 452.27,202.07 453.27,206.50 454.27,208.21 455.27,204.77 456.27,196.66 457.27,203.86 458.27,207.55 459.27,200.82 460.27,200.69 461.27,205.02 462.27,205.45 463.27,204.30 464.27,204.95 465.27,205.54 466.27,204.57 467.27,205.33 468.27,201.06 469.27,204.46 470.28,198.99 471.28,206.80 472.28,203.68 473.28,206.22 474.28,204.41 475.28,208.34 476.28,203.83 477.28,206.63 478.28,204.15 479.28,206.65 480.28,206.31 481.28,206.86 482.28,208.40 483.28,204.02 484.28,208.89 485.28,204.67 486.28,206.39 487.28,205.21 488.28,207.66 489.28,203.07 490.28,205.81 491.28,204.82 492.29,200.64 493.29,209.77 494.29,207.79 495.29,205.99 496.29,209.12 497.29,202.09 498.29,208.59 499.29,203.48 500.29,205.19 501.29,204.26 502.29,204.55 503.29,201.19 504.29,202.18 505.29,207.56 506.29,197.30 507.29,206.69 508.29,205.37 509.29,202.28 510.29,209.06 511.29,201.31 512.29,205.48 513.29,200.53 514.30,205.82 515.30,203.54 516.30,207.67 517.30,205.30 518.30,202.79 519.30,204.34 520.30,199.18 521.30,206.56 522.30,204.33 523.30,199.25 524.30,205.94"/>
<polyline clip-path="url(#cr)" fill="none" stroke="#3aa3a3" stroke-width="1.05" stroke-linejoin="round" points="307.20,172.79 308.20,184.64 309.20,190.85 310.20,199.90 311.20,189.52 312.20,199.60 313.20,194.14 314.20,198.33 315.20,205.27 316.20,197.87 317.20,195.46 318.21,196.86 319.21,196.37 320.21,205.91 321.21,193.86 322.21,200.56 323.21,206.53 324.21,180.61 325.21,206.99 326.21,201.72 327.21,186.42 328.21,186.32 329.21,200.98 330.21,180.81 331.21,203.22 332.21,180.48 333.21,190.72 334.21,174.51 335.21,184.64 336.21,183.30 337.21,180.44 338.21,197.38 339.21,178.15 340.22,199.42 341.22,174.02 342.22,161.72 343.22,182.10 344.22,182.53 345.22,193.49 346.22,184.72 347.22,189.70 348.22,158.00 349.22,148.57 350.22,135.69 351.22,124.87 352.22,130.54 353.22,143.42 354.22,153.72 355.22,164.85 356.22,132.00 357.22,155.70 358.22,170.42 359.22,165.04 360.22,169.24 361.22,181.95 362.23,177.87 363.23,192.49 364.23,202.91 365.23,196.38 366.23,198.48 367.23,185.62 368.23,192.87 369.23,195.00 370.23,191.76 371.23,190.82 372.23,200.21 373.23,195.67 374.23,198.39 375.23,199.88 376.23,199.49 377.23,199.61 378.23,184.14 379.23,188.63 380.23,191.96 381.23,207.45 382.23,206.95 383.24,201.20 384.24,198.36 385.24,206.12 386.24,198.13 387.24,191.21 388.24,187.05 389.24,189.62 390.24,204.79 391.24,204.36 392.24,191.16 393.24,193.27 394.24,187.18 395.24,208.65 396.24,193.05 397.24,200.43 398.24,197.95 399.24,191.92 400.24,202.84 401.24,195.45 402.24,197.05 403.24,194.04 404.24,204.37 405.25,205.63 406.25,198.50 407.25,192.66 408.25,187.59 409.25,203.07 410.25,190.49 411.25,195.78 412.25,205.37 413.25,206.38 414.25,204.20 415.25,203.66 416.25,208.09 417.25,209.43 418.25,201.96 419.25,208.19 420.25,196.45 421.25,206.85 422.25,205.59 423.25,205.28 424.25,202.36 425.25,207.93 426.25,207.75 427.26,198.56 428.26,201.68 429.26,207.29 430.26,204.59 431.26,208.74 432.26,200.57 433.26,198.37 434.26,206.46 435.26,205.16 436.26,206.64 437.26,209.04 438.26,204.85 439.26,204.27 440.26,201.75 441.26,206.76 442.26,201.18 443.26,207.88 444.26,205.50 445.26,203.96 446.26,200.20 447.26,206.03 448.26,200.11 449.27,202.98 450.27,208.02 451.27,207.34 452.27,203.74 453.27,205.08 454.27,204.68 455.27,203.45 456.27,196.64 457.27,207.87 458.27,209.09 459.27,205.36 460.27,201.61 461.27,205.92 462.27,201.80 463.27,206.42 464.27,206.99 465.27,196.22 466.27,202.98 467.27,207.70 468.27,203.68 469.27,203.38 470.28,205.12 471.28,206.89 472.28,209.63 473.28,208.25 474.28,200.73 475.28,204.46 476.28,198.44 477.28,204.23 478.28,200.96 479.28,204.83 480.28,202.64 481.28,209.40 482.28,204.30 483.28,204.04 484.28,208.56 485.28,207.52 486.28,207.85 487.28,203.80 488.28,208.41 489.28,204.85 490.28,207.46 491.28,204.18 492.29,203.31 493.29,203.12 494.29,203.92 495.29,208.28 496.29,209.34 497.29,197.73 498.29,204.95 499.29,198.91 500.29,205.50 501.29,202.90 502.29,200.23 503.29,206.24 504.29,209.25 505.29,202.35 506.29,206.87 507.29,205.62 508.29,201.02 509.29,203.10 510.29,205.15 511.29,207.91 512.29,205.99 513.29,201.64 514.30,205.94 515.30,207.29 516.30,207.34 517.30,206.09 518.30,205.33 519.30,204.27 520.30,204.95 521.30,207.19 522.30,205.48 523.30,209.46 524.30,207.55"/>
<polyline clip-path="url(#cr)" fill="none" stroke="#3aa3a3" stroke-width="0.9" points="335.42,199.79 335.77,185.01 336.12,197.32 336.47,191.87 336.81,194.61 337.16,187.62 337.51,201.80 337.85,196.41 338.20,198.15 338.55,181.19 338.90,195.38 339.24,192.41 339.59,192.55 339.94,181.64 340.29,187.30 340.63,193.93 340.98,192.10 341.33,194.21 341.68,198.35 342.02,185.74 342.37,197.49 342.72,187.24 343.06,191.37 343.41,184.63 343.76,186.54 344.11,187.89 344.45,189.84 344.80,176.14 345.15,192.15 345.50,183.19 345.84,194.67 346.19,174.11 346.54,177.59 346.89,158.03 347.23,180.51 347.58,188.59 347.93,183.60 348.28,187.77 348.62,170.30 348.97,156.59 349.32,186.75 349.66,166.75 350.01,167.80 350.36,160.89 350.71,178.64 351.05,160.17 351.40,172.94 351.75,155.91 352.10,177.38 352.44,156.68 352.79,180.37 353.14,129.35 353.49,164.40 353.83,179.84 354.18,179.23 354.53,177.74 354.88,162.37 355.22,154.05 355.57,164.87 355.92,152.17 356.26,180.74 356.61,161.05 356.96,188.97 357.31,172.00 357.65,173.17 358.00,172.89 358.35,183.33 358.70,172.51 359.04,196.49 359.39,188.01 359.74,198.34 360.09,191.96 360.43,196.12 360.78,188.93 361.13,198.21 361.48,197.73 361.82,196.01 362.17,203.56 362.52,200.96"/>
<polyline clip-path="url(#cr)" fill="none" stroke="#3c3c3c" stroke-width="0.9" points="307.20,174.33 308.20,208.30 309.20,208.02 310.20,208.04 311.20,208.61 312.20,208.34 313.20,208.95 314.20,208.49 315.20,209.02 316.20,208.50 317.20,208.30 318.21,209.35 319.21,208.74 320.21,209.05 321.21,209.34 322.21,208.28 323.21,208.85 324.21,208.38 325.21,208.64 326.21,207.98 327.21,208.80 328.21,207.17 329.21,206.74 330.21,208.09 331.21,209.00 332.21,207.93 333.21,206.83 334.21,208.19 335.21,208.07 336.21,208.06 337.21,205.85 338.21,208.95 339.21,207.63 340.22,208.53 341.22,208.04 342.22,209.19 343.22,209.28 344.22,209.27 345.22,209.15 346.22,205.84 347.22,208.56 348.22,207.71 349.22,207.07 350.22,208.33 351.22,208.35 352.22,208.54 353.22,209.28 354.22,208.62 355.22,208.26 356.22,209.05 357.22,209.10 358.22,209.28 359.22,207.07 360.22,208.53 361.22,209.11 362.23,208.79 363.23,208.78 364.23,209.27 365.23,207.85 366.23,208.89 367.23,208.30 368.23,209.23 369.23,209.23 370.23,208.90 371.23,208.99 372.23,207.10 373.23,207.80 374.23,206.26 375.23,208.96 376.23,208.46 377.23,208.04 378.23,207.74 379.23,208.47 380.23,209.18 381.23,207.85 382.23,208.76 383.24,208.40 384.24,209.30 385.24,207.54 386.24,206.80 387.24,208.24 388.24,207.62 389.24,204.83 390.24,207.14 391.24,208.40 392.24,207.76 393.24,207.65 394.24,205.99 395.24,208.10 396.24,208.01 397.24,207.69 398.24,207.95 399.24,206.89 400.24,208.16 401.24,209.13 402.24,207.41 403.24,208.87 404.24,208.54 405.25,206.05 406.25,208.22 407.25,208.68 408.25,206.84 409.25,208.95 410.25,208.08 411.25,207.95 412.25,209.21 413.25,206.86 414.25,208.74 415.25,209.27 416.25,208.07 417.25,207.34 418.25,208.87 419.25,208.64 420.25,209.29 421.25,209.31 422.25,208.90 423.25,207.72 424.25,208.81 425.25,208.41 426.25,207.97 427.26,208.98 428.26,208.99 429.26,208.05 430.26,208.45 431.26,207.33 432.26,209.03 433.26,208.55 434.26,208.85 435.26,209.24 436.26,208.42 437.26,208.95 438.26,208.95 439.26,208.46 440.26,208.87 441.26,208.38 442.26,207.53 443.26,208.79 444.26,206.95 445.26,208.69 446.26,208.20 447.26,207.33 448.26,206.53 449.27,208.91 450.27,209.09 451.27,208.46 452.27,208.43 453.27,208.46 454.27,209.24 455.27,209.08 456.27,207.30 457.27,208.88 458.27,208.77 459.27,208.08 460.27,206.48 461.27,206.48 462.27,206.18 463.27,207.75 464.27,208.29 465.27,209.11 466.27,207.29 467.27,208.70 468.27,206.68 469.27,208.02 470.28,206.72 471.28,208.65 472.28,207.78 473.28,207.01 474.28,208.41 475.28,208.60 476.28,207.95 477.28,207.21 478.28,209.28 479.28,209.15 480.28,208.48 481.28,207.42 482.28,208.25 483.28,208.65 484.28,208.33 485.28,208.64 486.28,207.76 487.28,206.57 488.28,209.34 489.28,208.95 490.28,206.87 491.28,206.67 492.29,208.82 493.29,208.63 494.29,207.21 495.29,207.49 496.29,208.40 497.29,207.86 498.29,207.04 499.29,209.32 500.29,207.85 501.29,208.81 502.29,208.64 503.29,208.49 504.29,209.26 505.29,208.70 506.29,209.09 507.29,207.94 508.29,207.82 509.29,209.13 510.29,208.34 511.29,209.32 512.29,208.41 513.29,207.98 514.30,209.28 515.30,209.35 516.30,208.39 517.30,208.85 518.30,209.31 519.30,208.66 520.30,208.04 521.30,208.63 522.30,208.79 523.30,209.22 524.30,207.71"/>
<path d="M99.95,210.4v-5M99.95,4.3v5M154.30,210.4v-5M154.30,4.3v5M208.65,210.4v-5M208.65,4.3v5M45.6,141.70h5M263.0,141.70h-5M45.6,73.00h5M263.0,73.00h-5M361.47,210.4v-5M361.47,4.3v5M415.75,210.4v-5M415.75,4.3v5M470.02,210.4v-5M470.02,4.3v5M307.2,158.88h5M524.3,158.88h-5M307.2,107.35h5M524.3,107.35h-5M307.2,55.83h5M524.3,55.83h-5" stroke="#1e1e1e" stroke-width="1" fill="none"/>
<rect x="45.6" y="4.3" width="217.40" height="206.10" fill="none" stroke="#1e1e1e" stroke-width="1.15"/>
<rect x="307.2" y="4.3" width="217.10" height="206.10" fill="none" stroke="#1e1e1e" stroke-width="1.15"/>
<g text-rendering="geometricPrecision" font-family="Liberation Serif" font-size="12.7" fill="#000" stroke="#000" stroke-width="0.2">
<text transform="translate(41.90,214.90)" text-anchor="end">300</text>
<text transform="translate(41.90,146.20)" text-anchor="end">1300</text>
<text transform="translate(41.90,77.50)" text-anchor="end">2300</text>
<text transform="translate(41.90,8.80)" text-anchor="end">3300</text>
<text transform="translate(46.40,224.70)" text-anchor="middle">0</text>
<text transform="translate(100.25,224.70)" text-anchor="middle">1</text>
<text transform="translate(154.60,224.70)" text-anchor="middle">2</text>
<text transform="translate(208.95,224.70)" text-anchor="middle">3</text>
<text transform="translate(263.30,224.70)" text-anchor="middle">4</text>
<text transform="translate(303.50,214.90)" text-anchor="end">0</text>
<text transform="translate(303.50,163.38)" text-anchor="end">10</text>
<text transform="translate(303.50,111.85)" text-anchor="end">20</text>
<text transform="translate(303.50,60.33)" text-anchor="end">30</text>
<text transform="translate(303.50,8.80)" text-anchor="end">40</text>
<text transform="translate(308.00,224.70)" text-anchor="middle">0</text>
<text transform="translate(361.77,224.70)" text-anchor="middle">25</text>
<text transform="translate(416.05,224.70)" text-anchor="middle">50</text>
<text transform="translate(470.32,224.70)" text-anchor="middle">75</text>
<text transform="translate(524.60,224.70)" text-anchor="middle">100</text>
<text transform="translate(144.80,239.00)" font-style="italic">t</text>
<text transform="translate(151.30,239.00)">[s]</text>
<text transform="translate(415.90,236.50)" text-anchor="middle">Frequency [Hz]</text>
<text transform="translate(9.00,107.60) rotate(-90)" text-anchor="middle">Temperature [K]</text>
<text transform="translate(286.70,107.40) rotate(-90)" text-anchor="middle">Amplitude [K]</text>
<text transform="translate(236.75,25.70)" text-anchor="middle" font-size="17">(a)</text>
<text transform="translate(497.65,25.70)" text-anchor="middle" font-size="17">(b)</text>
<g transform="translate(361.9,30.6)" stroke="#111" fill="none"><path d="M0.6,-0.6C1.3,0.1 2.6,-0.1 3.3,-1.6L6.3,-10.9C6.8,-12.3 8.0,-13.0 8.6,-12.0" stroke-width="1.15" stroke-linecap="round"/><path d="M3.6,-8.8H6.9" stroke-width="0.85"/><circle cx="0.75" cy="-0.75" r="0.65" fill="#111" stroke="none"/><circle cx="8.55" cy="-12.0" r="0.65" fill="#111" stroke="none"/></g><text x="370.10" y="30.60" font-size="7.2" text-anchor="middle">0</text>
<g transform="translate(412.6,155.3)" stroke="#111" fill="none"><path d="M0.6,-0.6C1.3,0.1 2.6,-0.1 3.3,-1.6L6.3,-10.9C6.8,-12.3 8.0,-13.0 8.6,-12.0" stroke-width="1.15" stroke-linecap="round"/><path d="M3.6,-8.8H6.9" stroke-width="0.85"/><circle cx="0.75" cy="-0.75" r="0.65" fill="#111" stroke="none"/><circle cx="8.55" cy="-12.0" r="0.65" fill="#111" stroke="none"/></g><text x="420.80" y="155.30" font-size="7.2" text-anchor="middle">1</text>
<g transform="translate(461.5,177.8)" stroke="#111" fill="none"><path d="M0.6,-0.6C1.3,0.1 2.6,-0.1 3.3,-1.6L6.3,-10.9C6.8,-12.3 8.0,-13.0 8.6,-12.0" stroke-width="1.15" stroke-linecap="round"/><path d="M3.6,-8.8H6.9" stroke-width="0.85"/><circle cx="0.75" cy="-0.75" r="0.65" fill="#111" stroke="none"/><circle cx="8.55" cy="-12.0" r="0.65" fill="#111" stroke="none"/></g><text x="469.70" y="177.80" font-size="7.2" text-anchor="middle">2</text>
<line x1="146" y1="110.00" x2="204.3" y2="110.00" stroke="#f29b3c" stroke-width="2.6"/>
<text transform="translate(213.80,114.10)">Case 1</text>
<line x1="146" y1="129.35" x2="204.3" y2="129.35" stroke="#3565ae" stroke-width="2.6"/>
<text transform="translate(213.80,133.45)">Case 2</text>
<line x1="146" y1="148.70" x2="204.3" y2="148.70" stroke="#dc2020" stroke-width="2.6"/>
<text transform="translate(213.80,152.80)">Case 3</text>
<line x1="146" y1="168.05" x2="204.3" y2="168.05" stroke="#3aa3a3" stroke-width="2.6"/>
<text transform="translate(213.80,172.15)">Case 4</text>
<line x1="146" y1="187.40" x2="204.3" y2="187.40" stroke="#3c3c3c" stroke-width="2.6"/>
<text transform="translate(213.80,191.50)">Case 5</text>
</g>
</svg></body></html>
